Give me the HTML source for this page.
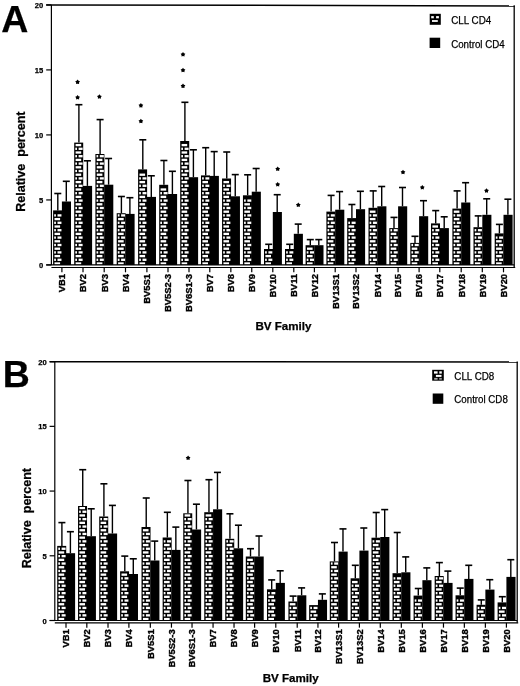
<!DOCTYPE html>
<html><head><meta charset="utf-8"><style>
html,body{margin:0;padding:0;background:#fff;}
body{width:520px;height:686px;overflow:hidden;}
svg{display:block;will-change:transform;}
text{font-family:"Liberation Sans", sans-serif;fill:#000;stroke:#000;stroke-width:0.25px;}
</style></head><body>
<svg width="520" height="686" viewBox="0 0 520 686">
<rect width="520" height="686" fill="#fff"/>
<line x1="57.8" y1="193.4" x2="57.8" y2="210.4" stroke="#000" stroke-width="1.4"/><line x1="54.3" y1="193.5" x2="61.3" y2="193.5" stroke="#000" stroke-width="1.6"/>
<line x1="66.3" y1="181.2" x2="66.3" y2="201.5" stroke="#000" stroke-width="1.4"/><line x1="62.8" y1="181.3" x2="69.8" y2="181.3" stroke="#000" stroke-width="1.6"/>
<rect x="53.1" y="210.4" width="9" height="54.55" fill="#000"/>
<rect x="54.5" y="262.35" width="5.6" height="2.3" fill="#fff"/>
<rect x="54.2" y="258.65" width="1.7" height="2.3" fill="#fff"/>
<rect x="57.5" y="258.65" width="4" height="2.3" fill="#fff"/>
<rect x="54.5" y="254.95" width="5.6" height="2.3" fill="#fff"/>
<rect x="54.2" y="251.25" width="1.7" height="2.3" fill="#fff"/>
<rect x="57.5" y="251.25" width="4" height="2.3" fill="#fff"/>
<rect x="54.5" y="247.55" width="5.6" height="2.3" fill="#fff"/>
<rect x="54.2" y="243.85" width="1.7" height="2.3" fill="#fff"/>
<rect x="57.5" y="243.85" width="4" height="2.3" fill="#fff"/>
<rect x="54.5" y="240.15" width="5.6" height="2.3" fill="#fff"/>
<rect x="54.2" y="236.45" width="1.7" height="2.3" fill="#fff"/>
<rect x="57.5" y="236.45" width="4" height="2.3" fill="#fff"/>
<rect x="54.5" y="232.75" width="5.6" height="2.3" fill="#fff"/>
<rect x="54.2" y="229.05" width="1.7" height="2.3" fill="#fff"/>
<rect x="57.5" y="229.05" width="4" height="2.3" fill="#fff"/>
<rect x="54.5" y="225.35" width="5.6" height="2.3" fill="#fff"/>
<rect x="54.2" y="221.65" width="1.7" height="2.3" fill="#fff"/>
<rect x="57.5" y="221.65" width="4" height="2.3" fill="#fff"/>
<rect x="54.5" y="217.95" width="5.6" height="2.3" fill="#fff"/>
<rect x="54.2" y="214.25" width="1.7" height="2.3" fill="#fff"/>
<rect x="57.5" y="214.25" width="4" height="2.3" fill="#fff"/>
<rect x="61.9" y="201.5" width="9.1" height="63.45" fill="#000"/>
<line x1="78.9" y1="104.6" x2="78.9" y2="142.6" stroke="#000" stroke-width="1.4"/><line x1="75.4" y1="104.7" x2="82.4" y2="104.7" stroke="#000" stroke-width="1.6"/>
<line x1="87.4" y1="160.7" x2="87.4" y2="185.9" stroke="#000" stroke-width="1.4"/><line x1="83.9" y1="160.8" x2="90.9" y2="160.8" stroke="#000" stroke-width="1.6"/>
<rect x="74.2" y="142.6" width="9" height="122.35" fill="#000"/>
<rect x="75.6" y="262.35" width="5.6" height="2.3" fill="#fff"/>
<rect x="75.3" y="258.65" width="1.7" height="2.3" fill="#fff"/>
<rect x="78.6" y="258.65" width="4" height="2.3" fill="#fff"/>
<rect x="75.6" y="254.95" width="5.6" height="2.3" fill="#fff"/>
<rect x="75.3" y="251.25" width="1.7" height="2.3" fill="#fff"/>
<rect x="78.6" y="251.25" width="4" height="2.3" fill="#fff"/>
<rect x="75.6" y="247.55" width="5.6" height="2.3" fill="#fff"/>
<rect x="75.3" y="243.85" width="1.7" height="2.3" fill="#fff"/>
<rect x="78.6" y="243.85" width="4" height="2.3" fill="#fff"/>
<rect x="75.6" y="240.15" width="5.6" height="2.3" fill="#fff"/>
<rect x="75.3" y="236.45" width="1.7" height="2.3" fill="#fff"/>
<rect x="78.6" y="236.45" width="4" height="2.3" fill="#fff"/>
<rect x="75.6" y="232.75" width="5.6" height="2.3" fill="#fff"/>
<rect x="75.3" y="229.05" width="1.7" height="2.3" fill="#fff"/>
<rect x="78.6" y="229.05" width="4" height="2.3" fill="#fff"/>
<rect x="75.6" y="225.35" width="5.6" height="2.3" fill="#fff"/>
<rect x="75.3" y="221.65" width="1.7" height="2.3" fill="#fff"/>
<rect x="78.6" y="221.65" width="4" height="2.3" fill="#fff"/>
<rect x="75.6" y="217.95" width="5.6" height="2.3" fill="#fff"/>
<rect x="75.3" y="214.25" width="1.7" height="2.3" fill="#fff"/>
<rect x="78.6" y="214.25" width="4" height="2.3" fill="#fff"/>
<rect x="75.6" y="210.55" width="5.6" height="2.3" fill="#fff"/>
<rect x="75.3" y="206.85" width="1.7" height="2.3" fill="#fff"/>
<rect x="78.6" y="206.85" width="4" height="2.3" fill="#fff"/>
<rect x="75.6" y="203.15" width="5.6" height="2.3" fill="#fff"/>
<rect x="75.3" y="199.45" width="1.7" height="2.3" fill="#fff"/>
<rect x="78.6" y="199.45" width="4" height="2.3" fill="#fff"/>
<rect x="75.6" y="195.75" width="5.6" height="2.3" fill="#fff"/>
<rect x="75.3" y="192.05" width="1.7" height="2.3" fill="#fff"/>
<rect x="78.6" y="192.05" width="4" height="2.3" fill="#fff"/>
<rect x="75.6" y="188.35" width="5.6" height="2.3" fill="#fff"/>
<rect x="75.3" y="184.65" width="1.7" height="2.3" fill="#fff"/>
<rect x="78.6" y="184.65" width="4" height="2.3" fill="#fff"/>
<rect x="75.6" y="180.95" width="5.6" height="2.3" fill="#fff"/>
<rect x="75.3" y="177.25" width="1.7" height="2.3" fill="#fff"/>
<rect x="78.6" y="177.25" width="4" height="2.3" fill="#fff"/>
<rect x="75.6" y="173.55" width="5.6" height="2.3" fill="#fff"/>
<rect x="75.3" y="169.85" width="1.7" height="2.3" fill="#fff"/>
<rect x="78.6" y="169.85" width="4" height="2.3" fill="#fff"/>
<rect x="75.6" y="166.15" width="5.6" height="2.3" fill="#fff"/>
<rect x="75.3" y="162.45" width="1.7" height="2.3" fill="#fff"/>
<rect x="78.6" y="162.45" width="4" height="2.3" fill="#fff"/>
<rect x="75.6" y="158.75" width="5.6" height="2.3" fill="#fff"/>
<rect x="75.3" y="155.05" width="1.7" height="2.3" fill="#fff"/>
<rect x="78.6" y="155.05" width="4" height="2.3" fill="#fff"/>
<rect x="75.6" y="151.35" width="5.6" height="2.3" fill="#fff"/>
<rect x="75.3" y="147.65" width="1.7" height="2.3" fill="#fff"/>
<rect x="78.6" y="147.65" width="4" height="2.3" fill="#fff"/>
<rect x="75.6" y="143.95" width="5.6" height="2.3" fill="#fff"/>
<rect x="83" y="185.9" width="9.1" height="79.05" fill="#000"/>
<line x1="100.1" y1="119.5" x2="100.1" y2="154" stroke="#000" stroke-width="1.4"/><line x1="96.6" y1="119.6" x2="103.6" y2="119.6" stroke="#000" stroke-width="1.6"/>
<line x1="108.6" y1="158.4" x2="108.6" y2="184.7" stroke="#000" stroke-width="1.4"/><line x1="105.1" y1="158.5" x2="112.1" y2="158.5" stroke="#000" stroke-width="1.6"/>
<rect x="95.4" y="154" width="9" height="110.95" fill="#000"/>
<rect x="96.8" y="262.35" width="5.6" height="2.3" fill="#fff"/>
<rect x="96.5" y="258.65" width="1.7" height="2.3" fill="#fff"/>
<rect x="99.8" y="258.65" width="4" height="2.3" fill="#fff"/>
<rect x="96.8" y="254.95" width="5.6" height="2.3" fill="#fff"/>
<rect x="96.5" y="251.25" width="1.7" height="2.3" fill="#fff"/>
<rect x="99.8" y="251.25" width="4" height="2.3" fill="#fff"/>
<rect x="96.8" y="247.55" width="5.6" height="2.3" fill="#fff"/>
<rect x="96.5" y="243.85" width="1.7" height="2.3" fill="#fff"/>
<rect x="99.8" y="243.85" width="4" height="2.3" fill="#fff"/>
<rect x="96.8" y="240.15" width="5.6" height="2.3" fill="#fff"/>
<rect x="96.5" y="236.45" width="1.7" height="2.3" fill="#fff"/>
<rect x="99.8" y="236.45" width="4" height="2.3" fill="#fff"/>
<rect x="96.8" y="232.75" width="5.6" height="2.3" fill="#fff"/>
<rect x="96.5" y="229.05" width="1.7" height="2.3" fill="#fff"/>
<rect x="99.8" y="229.05" width="4" height="2.3" fill="#fff"/>
<rect x="96.8" y="225.35" width="5.6" height="2.3" fill="#fff"/>
<rect x="96.5" y="221.65" width="1.7" height="2.3" fill="#fff"/>
<rect x="99.8" y="221.65" width="4" height="2.3" fill="#fff"/>
<rect x="96.8" y="217.95" width="5.6" height="2.3" fill="#fff"/>
<rect x="96.5" y="214.25" width="1.7" height="2.3" fill="#fff"/>
<rect x="99.8" y="214.25" width="4" height="2.3" fill="#fff"/>
<rect x="96.8" y="210.55" width="5.6" height="2.3" fill="#fff"/>
<rect x="96.5" y="206.85" width="1.7" height="2.3" fill="#fff"/>
<rect x="99.8" y="206.85" width="4" height="2.3" fill="#fff"/>
<rect x="96.8" y="203.15" width="5.6" height="2.3" fill="#fff"/>
<rect x="96.5" y="199.45" width="1.7" height="2.3" fill="#fff"/>
<rect x="99.8" y="199.45" width="4" height="2.3" fill="#fff"/>
<rect x="96.8" y="195.75" width="5.6" height="2.3" fill="#fff"/>
<rect x="96.5" y="192.05" width="1.7" height="2.3" fill="#fff"/>
<rect x="99.8" y="192.05" width="4" height="2.3" fill="#fff"/>
<rect x="96.8" y="188.35" width="5.6" height="2.3" fill="#fff"/>
<rect x="96.5" y="184.65" width="1.7" height="2.3" fill="#fff"/>
<rect x="99.8" y="184.65" width="4" height="2.3" fill="#fff"/>
<rect x="96.8" y="180.95" width="5.6" height="2.3" fill="#fff"/>
<rect x="96.5" y="177.25" width="1.7" height="2.3" fill="#fff"/>
<rect x="99.8" y="177.25" width="4" height="2.3" fill="#fff"/>
<rect x="96.8" y="173.55" width="5.6" height="2.3" fill="#fff"/>
<rect x="96.5" y="169.85" width="1.7" height="2.3" fill="#fff"/>
<rect x="99.8" y="169.85" width="4" height="2.3" fill="#fff"/>
<rect x="96.8" y="166.15" width="5.6" height="2.3" fill="#fff"/>
<rect x="96.5" y="162.45" width="1.7" height="2.3" fill="#fff"/>
<rect x="99.8" y="162.45" width="4" height="2.3" fill="#fff"/>
<rect x="96.8" y="158.75" width="5.6" height="2.3" fill="#fff"/>
<rect x="96.5" y="155.05" width="1.7" height="2.3" fill="#fff"/>
<rect x="99.8" y="155.05" width="4" height="2.3" fill="#fff"/>
<rect x="104.2" y="184.7" width="9.1" height="80.25" fill="#000"/>
<line x1="121.4" y1="196.4" x2="121.4" y2="213.2" stroke="#000" stroke-width="1.4"/><line x1="117.9" y1="196.5" x2="124.9" y2="196.5" stroke="#000" stroke-width="1.6"/>
<line x1="129.9" y1="197.6" x2="129.9" y2="213.9" stroke="#000" stroke-width="1.4"/><line x1="126.4" y1="197.7" x2="133.4" y2="197.7" stroke="#000" stroke-width="1.6"/>
<rect x="116.7" y="213.2" width="9" height="51.75" fill="#000"/>
<rect x="118.1" y="262.35" width="5.6" height="2.3" fill="#fff"/>
<rect x="117.8" y="258.65" width="1.7" height="2.3" fill="#fff"/>
<rect x="121.1" y="258.65" width="4" height="2.3" fill="#fff"/>
<rect x="118.1" y="254.95" width="5.6" height="2.3" fill="#fff"/>
<rect x="117.8" y="251.25" width="1.7" height="2.3" fill="#fff"/>
<rect x="121.1" y="251.25" width="4" height="2.3" fill="#fff"/>
<rect x="118.1" y="247.55" width="5.6" height="2.3" fill="#fff"/>
<rect x="117.8" y="243.85" width="1.7" height="2.3" fill="#fff"/>
<rect x="121.1" y="243.85" width="4" height="2.3" fill="#fff"/>
<rect x="118.1" y="240.15" width="5.6" height="2.3" fill="#fff"/>
<rect x="117.8" y="236.45" width="1.7" height="2.3" fill="#fff"/>
<rect x="121.1" y="236.45" width="4" height="2.3" fill="#fff"/>
<rect x="118.1" y="232.75" width="5.6" height="2.3" fill="#fff"/>
<rect x="117.8" y="229.05" width="1.7" height="2.3" fill="#fff"/>
<rect x="121.1" y="229.05" width="4" height="2.3" fill="#fff"/>
<rect x="118.1" y="225.35" width="5.6" height="2.3" fill="#fff"/>
<rect x="117.8" y="221.65" width="1.7" height="2.3" fill="#fff"/>
<rect x="121.1" y="221.65" width="4" height="2.3" fill="#fff"/>
<rect x="118.1" y="217.95" width="5.6" height="2.3" fill="#fff"/>
<rect x="117.8" y="214.25" width="1.7" height="2.3" fill="#fff"/>
<rect x="121.1" y="214.25" width="4" height="2.3" fill="#fff"/>
<rect x="125.5" y="213.9" width="9.1" height="51.05" fill="#000"/>
<line x1="142.8" y1="139.7" x2="142.8" y2="169.4" stroke="#000" stroke-width="1.4"/><line x1="139.3" y1="139.8" x2="146.3" y2="139.8" stroke="#000" stroke-width="1.6"/>
<line x1="151.3" y1="175.7" x2="151.3" y2="196.9" stroke="#000" stroke-width="1.4"/><line x1="147.8" y1="175.8" x2="154.8" y2="175.8" stroke="#000" stroke-width="1.6"/>
<rect x="138.1" y="169.4" width="9" height="95.55" fill="#000"/>
<rect x="139.5" y="262.35" width="5.6" height="2.3" fill="#fff"/>
<rect x="139.2" y="258.65" width="1.7" height="2.3" fill="#fff"/>
<rect x="142.5" y="258.65" width="4" height="2.3" fill="#fff"/>
<rect x="139.5" y="254.95" width="5.6" height="2.3" fill="#fff"/>
<rect x="139.2" y="251.25" width="1.7" height="2.3" fill="#fff"/>
<rect x="142.5" y="251.25" width="4" height="2.3" fill="#fff"/>
<rect x="139.5" y="247.55" width="5.6" height="2.3" fill="#fff"/>
<rect x="139.2" y="243.85" width="1.7" height="2.3" fill="#fff"/>
<rect x="142.5" y="243.85" width="4" height="2.3" fill="#fff"/>
<rect x="139.5" y="240.15" width="5.6" height="2.3" fill="#fff"/>
<rect x="139.2" y="236.45" width="1.7" height="2.3" fill="#fff"/>
<rect x="142.5" y="236.45" width="4" height="2.3" fill="#fff"/>
<rect x="139.5" y="232.75" width="5.6" height="2.3" fill="#fff"/>
<rect x="139.2" y="229.05" width="1.7" height="2.3" fill="#fff"/>
<rect x="142.5" y="229.05" width="4" height="2.3" fill="#fff"/>
<rect x="139.5" y="225.35" width="5.6" height="2.3" fill="#fff"/>
<rect x="139.2" y="221.65" width="1.7" height="2.3" fill="#fff"/>
<rect x="142.5" y="221.65" width="4" height="2.3" fill="#fff"/>
<rect x="139.5" y="217.95" width="5.6" height="2.3" fill="#fff"/>
<rect x="139.2" y="214.25" width="1.7" height="2.3" fill="#fff"/>
<rect x="142.5" y="214.25" width="4" height="2.3" fill="#fff"/>
<rect x="139.5" y="210.55" width="5.6" height="2.3" fill="#fff"/>
<rect x="139.2" y="206.85" width="1.7" height="2.3" fill="#fff"/>
<rect x="142.5" y="206.85" width="4" height="2.3" fill="#fff"/>
<rect x="139.5" y="203.15" width="5.6" height="2.3" fill="#fff"/>
<rect x="139.2" y="199.45" width="1.7" height="2.3" fill="#fff"/>
<rect x="142.5" y="199.45" width="4" height="2.3" fill="#fff"/>
<rect x="139.5" y="195.75" width="5.6" height="2.3" fill="#fff"/>
<rect x="139.2" y="192.05" width="1.7" height="2.3" fill="#fff"/>
<rect x="142.5" y="192.05" width="4" height="2.3" fill="#fff"/>
<rect x="139.5" y="188.35" width="5.6" height="2.3" fill="#fff"/>
<rect x="139.2" y="184.65" width="1.7" height="2.3" fill="#fff"/>
<rect x="142.5" y="184.65" width="4" height="2.3" fill="#fff"/>
<rect x="139.5" y="180.95" width="5.6" height="2.3" fill="#fff"/>
<rect x="139.2" y="177.25" width="1.7" height="2.3" fill="#fff"/>
<rect x="142.5" y="177.25" width="4" height="2.3" fill="#fff"/>
<rect x="139.5" y="173.55" width="5.6" height="2.3" fill="#fff"/>
<rect x="146.9" y="196.9" width="9.1" height="68.05" fill="#000"/>
<line x1="163.9" y1="160.4" x2="163.9" y2="184.8" stroke="#000" stroke-width="1.4"/><line x1="160.4" y1="160.5" x2="167.4" y2="160.5" stroke="#000" stroke-width="1.6"/>
<line x1="172.4" y1="171.2" x2="172.4" y2="194" stroke="#000" stroke-width="1.4"/><line x1="168.9" y1="171.3" x2="175.9" y2="171.3" stroke="#000" stroke-width="1.6"/>
<rect x="159.2" y="184.8" width="9" height="80.15" fill="#000"/>
<rect x="160.6" y="262.35" width="5.6" height="2.3" fill="#fff"/>
<rect x="160.3" y="258.65" width="1.7" height="2.3" fill="#fff"/>
<rect x="163.6" y="258.65" width="4" height="2.3" fill="#fff"/>
<rect x="160.6" y="254.95" width="5.6" height="2.3" fill="#fff"/>
<rect x="160.3" y="251.25" width="1.7" height="2.3" fill="#fff"/>
<rect x="163.6" y="251.25" width="4" height="2.3" fill="#fff"/>
<rect x="160.6" y="247.55" width="5.6" height="2.3" fill="#fff"/>
<rect x="160.3" y="243.85" width="1.7" height="2.3" fill="#fff"/>
<rect x="163.6" y="243.85" width="4" height="2.3" fill="#fff"/>
<rect x="160.6" y="240.15" width="5.6" height="2.3" fill="#fff"/>
<rect x="160.3" y="236.45" width="1.7" height="2.3" fill="#fff"/>
<rect x="163.6" y="236.45" width="4" height="2.3" fill="#fff"/>
<rect x="160.6" y="232.75" width="5.6" height="2.3" fill="#fff"/>
<rect x="160.3" y="229.05" width="1.7" height="2.3" fill="#fff"/>
<rect x="163.6" y="229.05" width="4" height="2.3" fill="#fff"/>
<rect x="160.6" y="225.35" width="5.6" height="2.3" fill="#fff"/>
<rect x="160.3" y="221.65" width="1.7" height="2.3" fill="#fff"/>
<rect x="163.6" y="221.65" width="4" height="2.3" fill="#fff"/>
<rect x="160.6" y="217.95" width="5.6" height="2.3" fill="#fff"/>
<rect x="160.3" y="214.25" width="1.7" height="2.3" fill="#fff"/>
<rect x="163.6" y="214.25" width="4" height="2.3" fill="#fff"/>
<rect x="160.6" y="210.55" width="5.6" height="2.3" fill="#fff"/>
<rect x="160.3" y="206.85" width="1.7" height="2.3" fill="#fff"/>
<rect x="163.6" y="206.85" width="4" height="2.3" fill="#fff"/>
<rect x="160.6" y="203.15" width="5.6" height="2.3" fill="#fff"/>
<rect x="160.3" y="199.45" width="1.7" height="2.3" fill="#fff"/>
<rect x="163.6" y="199.45" width="4" height="2.3" fill="#fff"/>
<rect x="160.6" y="195.75" width="5.6" height="2.3" fill="#fff"/>
<rect x="160.3" y="192.05" width="1.7" height="2.3" fill="#fff"/>
<rect x="163.6" y="192.05" width="4" height="2.3" fill="#fff"/>
<rect x="160.6" y="188.35" width="5.6" height="2.3" fill="#fff"/>
<rect x="168" y="194" width="9.1" height="70.95" fill="#000"/>
<line x1="184.9" y1="102.2" x2="184.9" y2="141" stroke="#000" stroke-width="1.4"/><line x1="181.4" y1="102.3" x2="188.4" y2="102.3" stroke="#000" stroke-width="1.6"/>
<line x1="193.4" y1="149.7" x2="193.4" y2="177.2" stroke="#000" stroke-width="1.4"/><line x1="189.9" y1="149.8" x2="196.9" y2="149.8" stroke="#000" stroke-width="1.6"/>
<rect x="180.2" y="141" width="9" height="123.95" fill="#000"/>
<rect x="181.6" y="262.35" width="5.6" height="2.3" fill="#fff"/>
<rect x="181.3" y="258.65" width="1.7" height="2.3" fill="#fff"/>
<rect x="184.6" y="258.65" width="4" height="2.3" fill="#fff"/>
<rect x="181.6" y="254.95" width="5.6" height="2.3" fill="#fff"/>
<rect x="181.3" y="251.25" width="1.7" height="2.3" fill="#fff"/>
<rect x="184.6" y="251.25" width="4" height="2.3" fill="#fff"/>
<rect x="181.6" y="247.55" width="5.6" height="2.3" fill="#fff"/>
<rect x="181.3" y="243.85" width="1.7" height="2.3" fill="#fff"/>
<rect x="184.6" y="243.85" width="4" height="2.3" fill="#fff"/>
<rect x="181.6" y="240.15" width="5.6" height="2.3" fill="#fff"/>
<rect x="181.3" y="236.45" width="1.7" height="2.3" fill="#fff"/>
<rect x="184.6" y="236.45" width="4" height="2.3" fill="#fff"/>
<rect x="181.6" y="232.75" width="5.6" height="2.3" fill="#fff"/>
<rect x="181.3" y="229.05" width="1.7" height="2.3" fill="#fff"/>
<rect x="184.6" y="229.05" width="4" height="2.3" fill="#fff"/>
<rect x="181.6" y="225.35" width="5.6" height="2.3" fill="#fff"/>
<rect x="181.3" y="221.65" width="1.7" height="2.3" fill="#fff"/>
<rect x="184.6" y="221.65" width="4" height="2.3" fill="#fff"/>
<rect x="181.6" y="217.95" width="5.6" height="2.3" fill="#fff"/>
<rect x="181.3" y="214.25" width="1.7" height="2.3" fill="#fff"/>
<rect x="184.6" y="214.25" width="4" height="2.3" fill="#fff"/>
<rect x="181.6" y="210.55" width="5.6" height="2.3" fill="#fff"/>
<rect x="181.3" y="206.85" width="1.7" height="2.3" fill="#fff"/>
<rect x="184.6" y="206.85" width="4" height="2.3" fill="#fff"/>
<rect x="181.6" y="203.15" width="5.6" height="2.3" fill="#fff"/>
<rect x="181.3" y="199.45" width="1.7" height="2.3" fill="#fff"/>
<rect x="184.6" y="199.45" width="4" height="2.3" fill="#fff"/>
<rect x="181.6" y="195.75" width="5.6" height="2.3" fill="#fff"/>
<rect x="181.3" y="192.05" width="1.7" height="2.3" fill="#fff"/>
<rect x="184.6" y="192.05" width="4" height="2.3" fill="#fff"/>
<rect x="181.6" y="188.35" width="5.6" height="2.3" fill="#fff"/>
<rect x="181.3" y="184.65" width="1.7" height="2.3" fill="#fff"/>
<rect x="184.6" y="184.65" width="4" height="2.3" fill="#fff"/>
<rect x="181.6" y="180.95" width="5.6" height="2.3" fill="#fff"/>
<rect x="181.3" y="177.25" width="1.7" height="2.3" fill="#fff"/>
<rect x="184.6" y="177.25" width="4" height="2.3" fill="#fff"/>
<rect x="181.6" y="173.55" width="5.6" height="2.3" fill="#fff"/>
<rect x="181.3" y="169.85" width="1.7" height="2.3" fill="#fff"/>
<rect x="184.6" y="169.85" width="4" height="2.3" fill="#fff"/>
<rect x="181.6" y="166.15" width="5.6" height="2.3" fill="#fff"/>
<rect x="181.3" y="162.45" width="1.7" height="2.3" fill="#fff"/>
<rect x="184.6" y="162.45" width="4" height="2.3" fill="#fff"/>
<rect x="181.6" y="158.75" width="5.6" height="2.3" fill="#fff"/>
<rect x="181.3" y="155.05" width="1.7" height="2.3" fill="#fff"/>
<rect x="184.6" y="155.05" width="4" height="2.3" fill="#fff"/>
<rect x="181.6" y="151.35" width="5.6" height="2.3" fill="#fff"/>
<rect x="181.3" y="147.65" width="1.7" height="2.3" fill="#fff"/>
<rect x="184.6" y="147.65" width="4" height="2.3" fill="#fff"/>
<rect x="181.6" y="143.95" width="5.6" height="2.3" fill="#fff"/>
<rect x="189" y="177.2" width="9.1" height="87.75" fill="#000"/>
<line x1="205.7" y1="147.6" x2="205.7" y2="175.4" stroke="#000" stroke-width="1.4"/><line x1="202.2" y1="147.7" x2="209.2" y2="147.7" stroke="#000" stroke-width="1.6"/>
<line x1="214.2" y1="151.5" x2="214.2" y2="175.9" stroke="#000" stroke-width="1.4"/><line x1="210.7" y1="151.6" x2="217.7" y2="151.6" stroke="#000" stroke-width="1.6"/>
<rect x="201" y="175.4" width="9" height="89.55" fill="#000"/>
<rect x="202.4" y="262.35" width="5.6" height="2.3" fill="#fff"/>
<rect x="202.1" y="258.65" width="1.7" height="2.3" fill="#fff"/>
<rect x="205.4" y="258.65" width="4" height="2.3" fill="#fff"/>
<rect x="202.4" y="254.95" width="5.6" height="2.3" fill="#fff"/>
<rect x="202.1" y="251.25" width="1.7" height="2.3" fill="#fff"/>
<rect x="205.4" y="251.25" width="4" height="2.3" fill="#fff"/>
<rect x="202.4" y="247.55" width="5.6" height="2.3" fill="#fff"/>
<rect x="202.1" y="243.85" width="1.7" height="2.3" fill="#fff"/>
<rect x="205.4" y="243.85" width="4" height="2.3" fill="#fff"/>
<rect x="202.4" y="240.15" width="5.6" height="2.3" fill="#fff"/>
<rect x="202.1" y="236.45" width="1.7" height="2.3" fill="#fff"/>
<rect x="205.4" y="236.45" width="4" height="2.3" fill="#fff"/>
<rect x="202.4" y="232.75" width="5.6" height="2.3" fill="#fff"/>
<rect x="202.1" y="229.05" width="1.7" height="2.3" fill="#fff"/>
<rect x="205.4" y="229.05" width="4" height="2.3" fill="#fff"/>
<rect x="202.4" y="225.35" width="5.6" height="2.3" fill="#fff"/>
<rect x="202.1" y="221.65" width="1.7" height="2.3" fill="#fff"/>
<rect x="205.4" y="221.65" width="4" height="2.3" fill="#fff"/>
<rect x="202.4" y="217.95" width="5.6" height="2.3" fill="#fff"/>
<rect x="202.1" y="214.25" width="1.7" height="2.3" fill="#fff"/>
<rect x="205.4" y="214.25" width="4" height="2.3" fill="#fff"/>
<rect x="202.4" y="210.55" width="5.6" height="2.3" fill="#fff"/>
<rect x="202.1" y="206.85" width="1.7" height="2.3" fill="#fff"/>
<rect x="205.4" y="206.85" width="4" height="2.3" fill="#fff"/>
<rect x="202.4" y="203.15" width="5.6" height="2.3" fill="#fff"/>
<rect x="202.1" y="199.45" width="1.7" height="2.3" fill="#fff"/>
<rect x="205.4" y="199.45" width="4" height="2.3" fill="#fff"/>
<rect x="202.4" y="195.75" width="5.6" height="2.3" fill="#fff"/>
<rect x="202.1" y="192.05" width="1.7" height="2.3" fill="#fff"/>
<rect x="205.4" y="192.05" width="4" height="2.3" fill="#fff"/>
<rect x="202.4" y="188.35" width="5.6" height="2.3" fill="#fff"/>
<rect x="202.1" y="184.65" width="1.7" height="2.3" fill="#fff"/>
<rect x="205.4" y="184.65" width="4" height="2.3" fill="#fff"/>
<rect x="202.4" y="180.95" width="5.6" height="2.3" fill="#fff"/>
<rect x="202.1" y="177.25" width="1.7" height="2.3" fill="#fff"/>
<rect x="205.4" y="177.25" width="4" height="2.3" fill="#fff"/>
<rect x="209.8" y="175.9" width="9.1" height="89.05" fill="#000"/>
<line x1="226.75" y1="151.9" x2="226.75" y2="178.5" stroke="#000" stroke-width="1.4"/><line x1="223.25" y1="152" x2="230.25" y2="152" stroke="#000" stroke-width="1.6"/>
<line x1="235.25" y1="174.5" x2="235.25" y2="196.3" stroke="#000" stroke-width="1.4"/><line x1="231.75" y1="174.6" x2="238.75" y2="174.6" stroke="#000" stroke-width="1.6"/>
<rect x="222.05" y="178.5" width="9" height="86.45" fill="#000"/>
<rect x="223.45" y="262.35" width="5.6" height="2.3" fill="#fff"/>
<rect x="223.15" y="258.65" width="1.7" height="2.3" fill="#fff"/>
<rect x="226.45" y="258.65" width="4" height="2.3" fill="#fff"/>
<rect x="223.45" y="254.95" width="5.6" height="2.3" fill="#fff"/>
<rect x="223.15" y="251.25" width="1.7" height="2.3" fill="#fff"/>
<rect x="226.45" y="251.25" width="4" height="2.3" fill="#fff"/>
<rect x="223.45" y="247.55" width="5.6" height="2.3" fill="#fff"/>
<rect x="223.15" y="243.85" width="1.7" height="2.3" fill="#fff"/>
<rect x="226.45" y="243.85" width="4" height="2.3" fill="#fff"/>
<rect x="223.45" y="240.15" width="5.6" height="2.3" fill="#fff"/>
<rect x="223.15" y="236.45" width="1.7" height="2.3" fill="#fff"/>
<rect x="226.45" y="236.45" width="4" height="2.3" fill="#fff"/>
<rect x="223.45" y="232.75" width="5.6" height="2.3" fill="#fff"/>
<rect x="223.15" y="229.05" width="1.7" height="2.3" fill="#fff"/>
<rect x="226.45" y="229.05" width="4" height="2.3" fill="#fff"/>
<rect x="223.45" y="225.35" width="5.6" height="2.3" fill="#fff"/>
<rect x="223.15" y="221.65" width="1.7" height="2.3" fill="#fff"/>
<rect x="226.45" y="221.65" width="4" height="2.3" fill="#fff"/>
<rect x="223.45" y="217.95" width="5.6" height="2.3" fill="#fff"/>
<rect x="223.15" y="214.25" width="1.7" height="2.3" fill="#fff"/>
<rect x="226.45" y="214.25" width="4" height="2.3" fill="#fff"/>
<rect x="223.45" y="210.55" width="5.6" height="2.3" fill="#fff"/>
<rect x="223.15" y="206.85" width="1.7" height="2.3" fill="#fff"/>
<rect x="226.45" y="206.85" width="4" height="2.3" fill="#fff"/>
<rect x="223.45" y="203.15" width="5.6" height="2.3" fill="#fff"/>
<rect x="223.15" y="199.45" width="1.7" height="2.3" fill="#fff"/>
<rect x="226.45" y="199.45" width="4" height="2.3" fill="#fff"/>
<rect x="223.45" y="195.75" width="5.6" height="2.3" fill="#fff"/>
<rect x="223.15" y="192.05" width="1.7" height="2.3" fill="#fff"/>
<rect x="226.45" y="192.05" width="4" height="2.3" fill="#fff"/>
<rect x="223.45" y="188.35" width="5.6" height="2.3" fill="#fff"/>
<rect x="223.15" y="184.65" width="1.7" height="2.3" fill="#fff"/>
<rect x="226.45" y="184.65" width="4" height="2.3" fill="#fff"/>
<rect x="223.45" y="180.95" width="5.6" height="2.3" fill="#fff"/>
<rect x="230.85" y="196.3" width="9.1" height="68.65" fill="#000"/>
<line x1="247.65" y1="174.7" x2="247.65" y2="195.3" stroke="#000" stroke-width="1.4"/><line x1="244.15" y1="174.8" x2="251.15" y2="174.8" stroke="#000" stroke-width="1.6"/>
<line x1="256.15" y1="168.4" x2="256.15" y2="191.7" stroke="#000" stroke-width="1.4"/><line x1="252.65" y1="168.5" x2="259.65" y2="168.5" stroke="#000" stroke-width="1.6"/>
<rect x="242.95" y="195.3" width="9" height="69.65" fill="#000"/>
<rect x="244.35" y="262.35" width="5.6" height="2.3" fill="#fff"/>
<rect x="244.05" y="258.65" width="1.7" height="2.3" fill="#fff"/>
<rect x="247.35" y="258.65" width="4" height="2.3" fill="#fff"/>
<rect x="244.35" y="254.95" width="5.6" height="2.3" fill="#fff"/>
<rect x="244.05" y="251.25" width="1.7" height="2.3" fill="#fff"/>
<rect x="247.35" y="251.25" width="4" height="2.3" fill="#fff"/>
<rect x="244.35" y="247.55" width="5.6" height="2.3" fill="#fff"/>
<rect x="244.05" y="243.85" width="1.7" height="2.3" fill="#fff"/>
<rect x="247.35" y="243.85" width="4" height="2.3" fill="#fff"/>
<rect x="244.35" y="240.15" width="5.6" height="2.3" fill="#fff"/>
<rect x="244.05" y="236.45" width="1.7" height="2.3" fill="#fff"/>
<rect x="247.35" y="236.45" width="4" height="2.3" fill="#fff"/>
<rect x="244.35" y="232.75" width="5.6" height="2.3" fill="#fff"/>
<rect x="244.05" y="229.05" width="1.7" height="2.3" fill="#fff"/>
<rect x="247.35" y="229.05" width="4" height="2.3" fill="#fff"/>
<rect x="244.35" y="225.35" width="5.6" height="2.3" fill="#fff"/>
<rect x="244.05" y="221.65" width="1.7" height="2.3" fill="#fff"/>
<rect x="247.35" y="221.65" width="4" height="2.3" fill="#fff"/>
<rect x="244.35" y="217.95" width="5.6" height="2.3" fill="#fff"/>
<rect x="244.05" y="214.25" width="1.7" height="2.3" fill="#fff"/>
<rect x="247.35" y="214.25" width="4" height="2.3" fill="#fff"/>
<rect x="244.35" y="210.55" width="5.6" height="2.3" fill="#fff"/>
<rect x="244.05" y="206.85" width="1.7" height="2.3" fill="#fff"/>
<rect x="247.35" y="206.85" width="4" height="2.3" fill="#fff"/>
<rect x="244.35" y="203.15" width="5.6" height="2.3" fill="#fff"/>
<rect x="244.05" y="199.45" width="1.7" height="2.3" fill="#fff"/>
<rect x="247.35" y="199.45" width="4" height="2.3" fill="#fff"/>
<rect x="251.75" y="191.7" width="9.1" height="73.25" fill="#000"/>
<line x1="268.7" y1="244.2" x2="268.7" y2="249" stroke="#000" stroke-width="1.4"/><line x1="265.2" y1="244.3" x2="272.2" y2="244.3" stroke="#000" stroke-width="1.6"/>
<line x1="277.2" y1="194.6" x2="277.2" y2="212" stroke="#000" stroke-width="1.4"/><line x1="273.7" y1="194.7" x2="280.7" y2="194.7" stroke="#000" stroke-width="1.6"/>
<rect x="264" y="249" width="9" height="15.95" fill="#000"/>
<rect x="265.4" y="262.35" width="5.6" height="2.3" fill="#fff"/>
<rect x="265.1" y="258.65" width="1.7" height="2.3" fill="#fff"/>
<rect x="268.4" y="258.65" width="4" height="2.3" fill="#fff"/>
<rect x="265.4" y="254.95" width="5.6" height="2.3" fill="#fff"/>
<rect x="265.1" y="251.25" width="1.7" height="2.3" fill="#fff"/>
<rect x="268.4" y="251.25" width="4" height="2.3" fill="#fff"/>
<rect x="272.8" y="212" width="9.1" height="52.95" fill="#000"/>
<line x1="289.7" y1="244.2" x2="289.7" y2="249" stroke="#000" stroke-width="1.4"/><line x1="286.2" y1="244.3" x2="293.2" y2="244.3" stroke="#000" stroke-width="1.6"/>
<line x1="298.2" y1="224" x2="298.2" y2="233.8" stroke="#000" stroke-width="1.4"/><line x1="294.7" y1="224.1" x2="301.7" y2="224.1" stroke="#000" stroke-width="1.6"/>
<rect x="285" y="249" width="9" height="15.95" fill="#000"/>
<rect x="286.4" y="262.35" width="5.6" height="2.3" fill="#fff"/>
<rect x="286.1" y="258.65" width="1.7" height="2.3" fill="#fff"/>
<rect x="289.4" y="258.65" width="4" height="2.3" fill="#fff"/>
<rect x="286.4" y="254.95" width="5.6" height="2.3" fill="#fff"/>
<rect x="286.1" y="251.25" width="1.7" height="2.3" fill="#fff"/>
<rect x="289.4" y="251.25" width="4" height="2.3" fill="#fff"/>
<rect x="293.8" y="233.8" width="9.1" height="31.15" fill="#000"/>
<line x1="310.3" y1="239.5" x2="310.3" y2="245.2" stroke="#000" stroke-width="1.4"/><line x1="306.8" y1="239.6" x2="313.8" y2="239.6" stroke="#000" stroke-width="1.6"/>
<line x1="318.8" y1="239.5" x2="318.8" y2="245.2" stroke="#000" stroke-width="1.4"/><line x1="315.3" y1="239.6" x2="322.3" y2="239.6" stroke="#000" stroke-width="1.6"/>
<rect x="305.6" y="245.2" width="9" height="19.75" fill="#000"/>
<rect x="307" y="262.35" width="5.6" height="2.3" fill="#fff"/>
<rect x="306.7" y="258.65" width="1.7" height="2.3" fill="#fff"/>
<rect x="310" y="258.65" width="4" height="2.3" fill="#fff"/>
<rect x="307" y="254.95" width="5.6" height="2.3" fill="#fff"/>
<rect x="306.7" y="251.25" width="1.7" height="2.3" fill="#fff"/>
<rect x="310" y="251.25" width="4" height="2.3" fill="#fff"/>
<rect x="307" y="247.55" width="5.6" height="2.3" fill="#fff"/>
<rect x="314.4" y="245.2" width="9.1" height="19.75" fill="#000"/>
<line x1="331.1" y1="195.3" x2="331.1" y2="211.6" stroke="#000" stroke-width="1.4"/><line x1="327.6" y1="195.4" x2="334.6" y2="195.4" stroke="#000" stroke-width="1.6"/>
<line x1="339.6" y1="191.5" x2="339.6" y2="209.7" stroke="#000" stroke-width="1.4"/><line x1="336.1" y1="191.6" x2="343.1" y2="191.6" stroke="#000" stroke-width="1.6"/>
<rect x="326.4" y="211.6" width="9" height="53.35" fill="#000"/>
<rect x="327.8" y="262.35" width="5.6" height="2.3" fill="#fff"/>
<rect x="327.5" y="258.65" width="1.7" height="2.3" fill="#fff"/>
<rect x="330.8" y="258.65" width="4" height="2.3" fill="#fff"/>
<rect x="327.8" y="254.95" width="5.6" height="2.3" fill="#fff"/>
<rect x="327.5" y="251.25" width="1.7" height="2.3" fill="#fff"/>
<rect x="330.8" y="251.25" width="4" height="2.3" fill="#fff"/>
<rect x="327.8" y="247.55" width="5.6" height="2.3" fill="#fff"/>
<rect x="327.5" y="243.85" width="1.7" height="2.3" fill="#fff"/>
<rect x="330.8" y="243.85" width="4" height="2.3" fill="#fff"/>
<rect x="327.8" y="240.15" width="5.6" height="2.3" fill="#fff"/>
<rect x="327.5" y="236.45" width="1.7" height="2.3" fill="#fff"/>
<rect x="330.8" y="236.45" width="4" height="2.3" fill="#fff"/>
<rect x="327.8" y="232.75" width="5.6" height="2.3" fill="#fff"/>
<rect x="327.5" y="229.05" width="1.7" height="2.3" fill="#fff"/>
<rect x="330.8" y="229.05" width="4" height="2.3" fill="#fff"/>
<rect x="327.8" y="225.35" width="5.6" height="2.3" fill="#fff"/>
<rect x="327.5" y="221.65" width="1.7" height="2.3" fill="#fff"/>
<rect x="330.8" y="221.65" width="4" height="2.3" fill="#fff"/>
<rect x="327.8" y="217.95" width="5.6" height="2.3" fill="#fff"/>
<rect x="327.5" y="214.25" width="1.7" height="2.3" fill="#fff"/>
<rect x="330.8" y="214.25" width="4" height="2.3" fill="#fff"/>
<rect x="335.2" y="209.7" width="9.1" height="55.25" fill="#000"/>
<line x1="351.9" y1="204.4" x2="351.9" y2="218.1" stroke="#000" stroke-width="1.4"/><line x1="348.4" y1="204.5" x2="355.4" y2="204.5" stroke="#000" stroke-width="1.6"/>
<line x1="360.4" y1="191.2" x2="360.4" y2="209.2" stroke="#000" stroke-width="1.4"/><line x1="356.9" y1="191.3" x2="363.9" y2="191.3" stroke="#000" stroke-width="1.6"/>
<rect x="347.2" y="218.1" width="9" height="46.85" fill="#000"/>
<rect x="348.6" y="262.35" width="5.6" height="2.3" fill="#fff"/>
<rect x="348.3" y="258.65" width="1.7" height="2.3" fill="#fff"/>
<rect x="351.6" y="258.65" width="4" height="2.3" fill="#fff"/>
<rect x="348.6" y="254.95" width="5.6" height="2.3" fill="#fff"/>
<rect x="348.3" y="251.25" width="1.7" height="2.3" fill="#fff"/>
<rect x="351.6" y="251.25" width="4" height="2.3" fill="#fff"/>
<rect x="348.6" y="247.55" width="5.6" height="2.3" fill="#fff"/>
<rect x="348.3" y="243.85" width="1.7" height="2.3" fill="#fff"/>
<rect x="351.6" y="243.85" width="4" height="2.3" fill="#fff"/>
<rect x="348.6" y="240.15" width="5.6" height="2.3" fill="#fff"/>
<rect x="348.3" y="236.45" width="1.7" height="2.3" fill="#fff"/>
<rect x="351.6" y="236.45" width="4" height="2.3" fill="#fff"/>
<rect x="348.6" y="232.75" width="5.6" height="2.3" fill="#fff"/>
<rect x="348.3" y="229.05" width="1.7" height="2.3" fill="#fff"/>
<rect x="351.6" y="229.05" width="4" height="2.3" fill="#fff"/>
<rect x="348.6" y="225.35" width="5.6" height="2.3" fill="#fff"/>
<rect x="348.3" y="221.65" width="1.7" height="2.3" fill="#fff"/>
<rect x="351.6" y="221.65" width="4" height="2.3" fill="#fff"/>
<rect x="356" y="209.2" width="9.1" height="55.75" fill="#000"/>
<line x1="373.2" y1="190.8" x2="373.2" y2="207.8" stroke="#000" stroke-width="1.4"/><line x1="369.7" y1="190.9" x2="376.7" y2="190.9" stroke="#000" stroke-width="1.6"/>
<line x1="381.7" y1="186.4" x2="381.7" y2="206.3" stroke="#000" stroke-width="1.4"/><line x1="378.2" y1="186.5" x2="385.2" y2="186.5" stroke="#000" stroke-width="1.6"/>
<rect x="368.5" y="207.8" width="9" height="57.15" fill="#000"/>
<rect x="369.9" y="262.35" width="5.6" height="2.3" fill="#fff"/>
<rect x="369.6" y="258.65" width="1.7" height="2.3" fill="#fff"/>
<rect x="372.9" y="258.65" width="4" height="2.3" fill="#fff"/>
<rect x="369.9" y="254.95" width="5.6" height="2.3" fill="#fff"/>
<rect x="369.6" y="251.25" width="1.7" height="2.3" fill="#fff"/>
<rect x="372.9" y="251.25" width="4" height="2.3" fill="#fff"/>
<rect x="369.9" y="247.55" width="5.6" height="2.3" fill="#fff"/>
<rect x="369.6" y="243.85" width="1.7" height="2.3" fill="#fff"/>
<rect x="372.9" y="243.85" width="4" height="2.3" fill="#fff"/>
<rect x="369.9" y="240.15" width="5.6" height="2.3" fill="#fff"/>
<rect x="369.6" y="236.45" width="1.7" height="2.3" fill="#fff"/>
<rect x="372.9" y="236.45" width="4" height="2.3" fill="#fff"/>
<rect x="369.9" y="232.75" width="5.6" height="2.3" fill="#fff"/>
<rect x="369.6" y="229.05" width="1.7" height="2.3" fill="#fff"/>
<rect x="372.9" y="229.05" width="4" height="2.3" fill="#fff"/>
<rect x="369.9" y="225.35" width="5.6" height="2.3" fill="#fff"/>
<rect x="369.6" y="221.65" width="1.7" height="2.3" fill="#fff"/>
<rect x="372.9" y="221.65" width="4" height="2.3" fill="#fff"/>
<rect x="369.9" y="217.95" width="5.6" height="2.3" fill="#fff"/>
<rect x="369.6" y="214.25" width="1.7" height="2.3" fill="#fff"/>
<rect x="372.9" y="214.25" width="4" height="2.3" fill="#fff"/>
<rect x="369.9" y="210.55" width="5.6" height="2.3" fill="#fff"/>
<rect x="377.3" y="206.3" width="9.1" height="58.65" fill="#000"/>
<line x1="394" y1="217.3" x2="394" y2="228.1" stroke="#000" stroke-width="1.4"/><line x1="390.5" y1="217.4" x2="397.5" y2="217.4" stroke="#000" stroke-width="1.6"/>
<line x1="402.5" y1="187.4" x2="402.5" y2="206.3" stroke="#000" stroke-width="1.4"/><line x1="399" y1="187.5" x2="406" y2="187.5" stroke="#000" stroke-width="1.6"/>
<rect x="389.3" y="228.1" width="9" height="36.85" fill="#000"/>
<rect x="390.7" y="262.35" width="5.6" height="2.3" fill="#fff"/>
<rect x="390.4" y="258.65" width="1.7" height="2.3" fill="#fff"/>
<rect x="393.7" y="258.65" width="4" height="2.3" fill="#fff"/>
<rect x="390.7" y="254.95" width="5.6" height="2.3" fill="#fff"/>
<rect x="390.4" y="251.25" width="1.7" height="2.3" fill="#fff"/>
<rect x="393.7" y="251.25" width="4" height="2.3" fill="#fff"/>
<rect x="390.7" y="247.55" width="5.6" height="2.3" fill="#fff"/>
<rect x="390.4" y="243.85" width="1.7" height="2.3" fill="#fff"/>
<rect x="393.7" y="243.85" width="4" height="2.3" fill="#fff"/>
<rect x="390.7" y="240.15" width="5.6" height="2.3" fill="#fff"/>
<rect x="390.4" y="236.45" width="1.7" height="2.3" fill="#fff"/>
<rect x="393.7" y="236.45" width="4" height="2.3" fill="#fff"/>
<rect x="390.7" y="232.75" width="5.6" height="2.3" fill="#fff"/>
<rect x="390.4" y="229.1" width="1.7" height="2.25" fill="#fff"/>
<rect x="393.7" y="229.1" width="4" height="2.25" fill="#fff"/>
<rect x="398.1" y="206.3" width="9.1" height="58.65" fill="#000"/>
<line x1="415" y1="236.2" x2="415" y2="242.9" stroke="#000" stroke-width="1.4"/><line x1="411.5" y1="236.3" x2="418.5" y2="236.3" stroke="#000" stroke-width="1.6"/>
<line x1="423.5" y1="200.6" x2="423.5" y2="216.2" stroke="#000" stroke-width="1.4"/><line x1="420" y1="200.7" x2="427" y2="200.7" stroke="#000" stroke-width="1.6"/>
<rect x="410.3" y="242.9" width="9" height="22.05" fill="#000"/>
<rect x="411.7" y="262.35" width="5.6" height="2.3" fill="#fff"/>
<rect x="411.4" y="258.65" width="1.7" height="2.3" fill="#fff"/>
<rect x="414.7" y="258.65" width="4" height="2.3" fill="#fff"/>
<rect x="411.7" y="254.95" width="5.6" height="2.3" fill="#fff"/>
<rect x="411.4" y="251.25" width="1.7" height="2.3" fill="#fff"/>
<rect x="414.7" y="251.25" width="4" height="2.3" fill="#fff"/>
<rect x="411.7" y="247.55" width="5.6" height="2.3" fill="#fff"/>
<rect x="411.4" y="243.9" width="1.7" height="2.25" fill="#fff"/>
<rect x="414.7" y="243.9" width="4" height="2.25" fill="#fff"/>
<rect x="419.1" y="216.2" width="9.1" height="48.75" fill="#000"/>
<line x1="435.7" y1="210.5" x2="435.7" y2="223.4" stroke="#000" stroke-width="1.4"/><line x1="432.2" y1="210.6" x2="439.2" y2="210.6" stroke="#000" stroke-width="1.6"/>
<line x1="444.2" y1="216.7" x2="444.2" y2="228.1" stroke="#000" stroke-width="1.4"/><line x1="440.7" y1="216.8" x2="447.7" y2="216.8" stroke="#000" stroke-width="1.6"/>
<rect x="431" y="223.4" width="9" height="41.55" fill="#000"/>
<rect x="432.4" y="262.35" width="5.6" height="2.3" fill="#fff"/>
<rect x="432.1" y="258.65" width="1.7" height="2.3" fill="#fff"/>
<rect x="435.4" y="258.65" width="4" height="2.3" fill="#fff"/>
<rect x="432.4" y="254.95" width="5.6" height="2.3" fill="#fff"/>
<rect x="432.1" y="251.25" width="1.7" height="2.3" fill="#fff"/>
<rect x="435.4" y="251.25" width="4" height="2.3" fill="#fff"/>
<rect x="432.4" y="247.55" width="5.6" height="2.3" fill="#fff"/>
<rect x="432.1" y="243.85" width="1.7" height="2.3" fill="#fff"/>
<rect x="435.4" y="243.85" width="4" height="2.3" fill="#fff"/>
<rect x="432.4" y="240.15" width="5.6" height="2.3" fill="#fff"/>
<rect x="432.1" y="236.45" width="1.7" height="2.3" fill="#fff"/>
<rect x="435.4" y="236.45" width="4" height="2.3" fill="#fff"/>
<rect x="432.4" y="232.75" width="5.6" height="2.3" fill="#fff"/>
<rect x="432.1" y="229.05" width="1.7" height="2.3" fill="#fff"/>
<rect x="435.4" y="229.05" width="4" height="2.3" fill="#fff"/>
<rect x="432.4" y="225.35" width="5.6" height="2.3" fill="#fff"/>
<rect x="439.8" y="228.1" width="9.1" height="36.85" fill="#000"/>
<line x1="457.1" y1="190.8" x2="457.1" y2="208.6" stroke="#000" stroke-width="1.4"/><line x1="453.6" y1="190.9" x2="460.6" y2="190.9" stroke="#000" stroke-width="1.6"/>
<line x1="465.6" y1="182.6" x2="465.6" y2="202.5" stroke="#000" stroke-width="1.4"/><line x1="462.1" y1="182.7" x2="469.1" y2="182.7" stroke="#000" stroke-width="1.6"/>
<rect x="452.4" y="208.6" width="9" height="56.35" fill="#000"/>
<rect x="453.8" y="262.35" width="5.6" height="2.3" fill="#fff"/>
<rect x="453.5" y="258.65" width="1.7" height="2.3" fill="#fff"/>
<rect x="456.8" y="258.65" width="4" height="2.3" fill="#fff"/>
<rect x="453.8" y="254.95" width="5.6" height="2.3" fill="#fff"/>
<rect x="453.5" y="251.25" width="1.7" height="2.3" fill="#fff"/>
<rect x="456.8" y="251.25" width="4" height="2.3" fill="#fff"/>
<rect x="453.8" y="247.55" width="5.6" height="2.3" fill="#fff"/>
<rect x="453.5" y="243.85" width="1.7" height="2.3" fill="#fff"/>
<rect x="456.8" y="243.85" width="4" height="2.3" fill="#fff"/>
<rect x="453.8" y="240.15" width="5.6" height="2.3" fill="#fff"/>
<rect x="453.5" y="236.45" width="1.7" height="2.3" fill="#fff"/>
<rect x="456.8" y="236.45" width="4" height="2.3" fill="#fff"/>
<rect x="453.8" y="232.75" width="5.6" height="2.3" fill="#fff"/>
<rect x="453.5" y="229.05" width="1.7" height="2.3" fill="#fff"/>
<rect x="456.8" y="229.05" width="4" height="2.3" fill="#fff"/>
<rect x="453.8" y="225.35" width="5.6" height="2.3" fill="#fff"/>
<rect x="453.5" y="221.65" width="1.7" height="2.3" fill="#fff"/>
<rect x="456.8" y="221.65" width="4" height="2.3" fill="#fff"/>
<rect x="453.8" y="217.95" width="5.6" height="2.3" fill="#fff"/>
<rect x="453.5" y="214.25" width="1.7" height="2.3" fill="#fff"/>
<rect x="456.8" y="214.25" width="4" height="2.3" fill="#fff"/>
<rect x="453.8" y="210.55" width="5.6" height="2.3" fill="#fff"/>
<rect x="461.2" y="202.5" width="9.1" height="62.45" fill="#000"/>
<line x1="478.2" y1="215.8" x2="478.2" y2="227.2" stroke="#000" stroke-width="1.4"/><line x1="474.7" y1="215.9" x2="481.7" y2="215.9" stroke="#000" stroke-width="1.6"/>
<line x1="486.7" y1="198.7" x2="486.7" y2="214.8" stroke="#000" stroke-width="1.4"/><line x1="483.2" y1="198.8" x2="490.2" y2="198.8" stroke="#000" stroke-width="1.6"/>
<rect x="473.5" y="227.2" width="9" height="37.75" fill="#000"/>
<rect x="474.9" y="262.35" width="5.6" height="2.3" fill="#fff"/>
<rect x="474.6" y="258.65" width="1.7" height="2.3" fill="#fff"/>
<rect x="477.9" y="258.65" width="4" height="2.3" fill="#fff"/>
<rect x="474.9" y="254.95" width="5.6" height="2.3" fill="#fff"/>
<rect x="474.6" y="251.25" width="1.7" height="2.3" fill="#fff"/>
<rect x="477.9" y="251.25" width="4" height="2.3" fill="#fff"/>
<rect x="474.9" y="247.55" width="5.6" height="2.3" fill="#fff"/>
<rect x="474.6" y="243.85" width="1.7" height="2.3" fill="#fff"/>
<rect x="477.9" y="243.85" width="4" height="2.3" fill="#fff"/>
<rect x="474.9" y="240.15" width="5.6" height="2.3" fill="#fff"/>
<rect x="474.6" y="236.45" width="1.7" height="2.3" fill="#fff"/>
<rect x="477.9" y="236.45" width="4" height="2.3" fill="#fff"/>
<rect x="474.9" y="232.75" width="5.6" height="2.3" fill="#fff"/>
<rect x="474.6" y="229.05" width="1.7" height="2.3" fill="#fff"/>
<rect x="477.9" y="229.05" width="4" height="2.3" fill="#fff"/>
<rect x="482.3" y="214.8" width="9.1" height="50.15" fill="#000"/>
<line x1="499.4" y1="224.3" x2="499.4" y2="233.4" stroke="#000" stroke-width="1.4"/><line x1="495.9" y1="224.4" x2="502.9" y2="224.4" stroke="#000" stroke-width="1.6"/>
<line x1="507.9" y1="199.1" x2="507.9" y2="214.8" stroke="#000" stroke-width="1.4"/><line x1="504.4" y1="199.2" x2="511.4" y2="199.2" stroke="#000" stroke-width="1.6"/>
<rect x="494.7" y="233.4" width="9" height="31.55" fill="#000"/>
<rect x="496.1" y="262.35" width="5.6" height="2.3" fill="#fff"/>
<rect x="495.8" y="258.65" width="1.7" height="2.3" fill="#fff"/>
<rect x="499.1" y="258.65" width="4" height="2.3" fill="#fff"/>
<rect x="496.1" y="254.95" width="5.6" height="2.3" fill="#fff"/>
<rect x="495.8" y="251.25" width="1.7" height="2.3" fill="#fff"/>
<rect x="499.1" y="251.25" width="4" height="2.3" fill="#fff"/>
<rect x="496.1" y="247.55" width="5.6" height="2.3" fill="#fff"/>
<rect x="495.8" y="243.85" width="1.7" height="2.3" fill="#fff"/>
<rect x="499.1" y="243.85" width="4" height="2.3" fill="#fff"/>
<rect x="496.1" y="240.15" width="5.6" height="2.3" fill="#fff"/>
<rect x="495.8" y="236.45" width="1.7" height="2.3" fill="#fff"/>
<rect x="499.1" y="236.45" width="4" height="2.3" fill="#fff"/>
<rect x="503.5" y="214.8" width="9.1" height="50.15" fill="#000"/>
<polygon points="77.6,79.6 78.51,80.85 79.98,81.33 79.07,82.58 79.07,84.12 77.6,83.65 76.13,84.12 76.13,82.58 75.22,81.33 76.69,80.85" fill="#000"/>
<polygon points="77.6,94.9 78.51,96.15 79.98,96.63 79.07,97.88 79.07,99.42 77.6,98.95 76.13,99.42 76.13,97.88 75.22,96.63 76.69,96.15" fill="#000"/>
<polygon points="99.4,94.2 100.31,95.45 101.78,95.93 100.87,97.18 100.87,98.72 99.4,98.25 97.93,98.72 97.93,97.18 97.02,95.93 98.49,95.45" fill="#000"/>
<polygon points="140.9,103.1 141.81,104.35 143.28,104.83 142.37,106.08 142.37,107.62 140.9,107.15 139.43,107.62 139.43,106.08 138.52,104.83 139.99,104.35" fill="#000"/>
<polygon points="140.9,118.7 141.81,119.95 143.28,120.43 142.37,121.68 142.37,123.22 140.9,122.75 139.43,123.22 139.43,121.68 138.52,120.43 139.99,119.95" fill="#000"/>
<polygon points="183,52 183.91,53.25 185.38,53.73 184.47,54.98 184.47,56.52 183,56.05 181.53,56.52 181.53,54.98 180.62,53.73 182.09,53.25" fill="#000"/>
<polygon points="183,67.8 183.91,69.05 185.38,69.53 184.47,70.78 184.47,72.32 183,71.85 181.53,72.32 181.53,70.78 180.62,69.53 182.09,69.05" fill="#000"/>
<polygon points="183,83.6 183.91,84.85 185.38,85.33 184.47,86.58 184.47,88.12 183,87.65 181.53,88.12 181.53,86.58 180.62,85.33 182.09,84.85" fill="#000"/>
<polygon points="277.7,166.5 278.61,167.75 280.08,168.23 279.17,169.48 279.17,171.02 277.7,170.55 276.23,171.02 276.23,169.48 275.32,168.23 276.79,167.75" fill="#000"/>
<polygon points="277.7,181.9 278.61,183.15 280.08,183.63 279.17,184.88 279.17,186.42 277.7,185.95 276.23,186.42 276.23,184.88 275.32,183.63 276.79,183.15" fill="#000"/>
<polygon points="298.3,202.4 299.21,203.65 300.68,204.13 299.77,205.38 299.77,206.92 298.3,206.45 296.83,206.92 296.83,205.38 295.92,204.13 297.39,203.65" fill="#000"/>
<polygon points="403,169.7 403.91,170.95 405.38,171.43 404.47,172.68 404.47,174.22 403,173.75 401.53,174.22 401.53,172.68 400.62,171.43 402.09,170.95" fill="#000"/>
<polygon points="422.3,184.9 423.21,186.15 424.68,186.63 423.77,187.88 423.77,189.42 422.3,188.95 420.83,189.42 420.83,187.88 419.92,186.63 421.39,186.15" fill="#000"/>
<polygon points="486.5,188.3 487.41,189.55 488.88,190.03 487.97,191.28 487.97,192.82 486.5,192.35 485.03,192.82 485.03,191.28 484.12,190.03 485.59,189.55" fill="#000"/>
<line x1="51.4" y1="4.9" x2="51.4" y2="264.95" stroke="#000" stroke-width="1.2"/>
<line x1="46.2" y1="4.9" x2="514.8" y2="5.9" stroke="#000" stroke-width="1.5"/>
<line x1="514.2" y1="5.3" x2="514.2" y2="267.5" stroke="#000" stroke-width="1.3"/>
<line x1="46.2" y1="264.95" x2="514.2" y2="264.95" stroke="#000" stroke-width="1.2"/>
<line x1="51.4" y1="267.5" x2="515.2" y2="267.5" stroke="#000" stroke-width="1.1"/>
<line x1="46.2" y1="264.95" x2="51.4" y2="264.95" stroke="#000" stroke-width="1.2"/>
<text x="43.3" y="268.05" font-size="7.6" font-weight="bold" text-anchor="end">0</text>
<line x1="46.2" y1="199.94" x2="51.4" y2="199.94" stroke="#000" stroke-width="1.2"/>
<text x="43.3" y="203.04" font-size="7.6" font-weight="bold" text-anchor="end">5</text>
<line x1="46.2" y1="134.92" x2="51.4" y2="134.92" stroke="#000" stroke-width="1.2"/>
<text x="43.3" y="138.02" font-size="7.6" font-weight="bold" text-anchor="end">10</text>
<line x1="46.2" y1="69.91" x2="51.4" y2="69.91" stroke="#000" stroke-width="1.2"/>
<text x="43.3" y="73.01" font-size="7.6" font-weight="bold" text-anchor="end">15</text>
<line x1="46.2" y1="4.9" x2="51.4" y2="4.9" stroke="#000" stroke-width="1.2"/>
<text x="43.3" y="8" font-size="7.6" font-weight="bold" text-anchor="end">20</text>
<line x1="61.9" y1="267.5" x2="61.9" y2="272.3" stroke="#000" stroke-width="1.2"/>
<text transform="translate(65.2,273.9) rotate(-90) scale(1.035,1)" font-size="9.1" font-weight="bold" text-anchor="end" style="stroke-width:0.35px">VB1</text>
<line x1="83" y1="267.5" x2="83" y2="272.3" stroke="#000" stroke-width="1.2"/>
<text transform="translate(86.3,273.9) rotate(-90) scale(1.035,1)" font-size="9.1" font-weight="bold" text-anchor="end" style="stroke-width:0.35px">BV2</text>
<line x1="104.2" y1="267.5" x2="104.2" y2="272.3" stroke="#000" stroke-width="1.2"/>
<text transform="translate(107.5,273.9) rotate(-90) scale(1.035,1)" font-size="9.1" font-weight="bold" text-anchor="end" style="stroke-width:0.35px">BV3</text>
<line x1="125.5" y1="267.5" x2="125.5" y2="272.3" stroke="#000" stroke-width="1.2"/>
<text transform="translate(128.8,273.9) rotate(-90) scale(1.035,1)" font-size="9.1" font-weight="bold" text-anchor="end" style="stroke-width:0.35px">BV4</text>
<line x1="146.9" y1="267.5" x2="146.9" y2="272.3" stroke="#000" stroke-width="1.2"/>
<text transform="translate(150.2,273.9) rotate(-90) scale(1.035,1)" font-size="9.1" font-weight="bold" text-anchor="end" style="stroke-width:0.35px">BV5S1</text>
<line x1="168" y1="267.5" x2="168" y2="272.3" stroke="#000" stroke-width="1.2"/>
<text transform="translate(171.3,273.9) rotate(-90) scale(1.035,1)" font-size="9.1" font-weight="bold" text-anchor="end" style="stroke-width:0.35px">BV5S2-3</text>
<line x1="189" y1="267.5" x2="189" y2="272.3" stroke="#000" stroke-width="1.2"/>
<text transform="translate(192.3,273.9) rotate(-90) scale(1.035,1)" font-size="9.1" font-weight="bold" text-anchor="end" style="stroke-width:0.35px">BV6S1-3</text>
<line x1="209.8" y1="267.5" x2="209.8" y2="272.3" stroke="#000" stroke-width="1.2"/>
<text transform="translate(213.1,273.9) rotate(-90) scale(1.035,1)" font-size="9.1" font-weight="bold" text-anchor="end" style="stroke-width:0.35px">BV7</text>
<line x1="230.85" y1="267.5" x2="230.85" y2="272.3" stroke="#000" stroke-width="1.2"/>
<text transform="translate(234.15,273.9) rotate(-90) scale(1.035,1)" font-size="9.1" font-weight="bold" text-anchor="end" style="stroke-width:0.35px">BV8</text>
<line x1="251.75" y1="267.5" x2="251.75" y2="272.3" stroke="#000" stroke-width="1.2"/>
<text transform="translate(255.05,273.9) rotate(-90) scale(1.035,1)" font-size="9.1" font-weight="bold" text-anchor="end" style="stroke-width:0.35px">BV9</text>
<line x1="272.8" y1="267.5" x2="272.8" y2="272.3" stroke="#000" stroke-width="1.2"/>
<text transform="translate(276.1,273.9) rotate(-90) scale(1.035,1)" font-size="9.1" font-weight="bold" text-anchor="end" style="stroke-width:0.35px">BV10</text>
<line x1="293.8" y1="267.5" x2="293.8" y2="272.3" stroke="#000" stroke-width="1.2"/>
<text transform="translate(297.1,273.9) rotate(-90) scale(1.035,1)" font-size="9.1" font-weight="bold" text-anchor="end" style="stroke-width:0.35px">BV11</text>
<line x1="314.4" y1="267.5" x2="314.4" y2="272.3" stroke="#000" stroke-width="1.2"/>
<text transform="translate(317.7,273.9) rotate(-90) scale(1.035,1)" font-size="9.1" font-weight="bold" text-anchor="end" style="stroke-width:0.35px">BV12</text>
<line x1="335.2" y1="267.5" x2="335.2" y2="272.3" stroke="#000" stroke-width="1.2"/>
<text transform="translate(338.5,273.9) rotate(-90) scale(1.035,1)" font-size="9.1" font-weight="bold" text-anchor="end" style="stroke-width:0.35px">BV13S1</text>
<line x1="356" y1="267.5" x2="356" y2="272.3" stroke="#000" stroke-width="1.2"/>
<text transform="translate(359.3,273.9) rotate(-90) scale(1.035,1)" font-size="9.1" font-weight="bold" text-anchor="end" style="stroke-width:0.35px">BV13S2</text>
<line x1="377.3" y1="267.5" x2="377.3" y2="272.3" stroke="#000" stroke-width="1.2"/>
<text transform="translate(380.6,273.9) rotate(-90) scale(1.035,1)" font-size="9.1" font-weight="bold" text-anchor="end" style="stroke-width:0.35px">BV14</text>
<line x1="398.1" y1="267.5" x2="398.1" y2="272.3" stroke="#000" stroke-width="1.2"/>
<text transform="translate(401.4,273.9) rotate(-90) scale(1.035,1)" font-size="9.1" font-weight="bold" text-anchor="end" style="stroke-width:0.35px">BV15</text>
<line x1="419.1" y1="267.5" x2="419.1" y2="272.3" stroke="#000" stroke-width="1.2"/>
<text transform="translate(422.4,273.9) rotate(-90) scale(1.035,1)" font-size="9.1" font-weight="bold" text-anchor="end" style="stroke-width:0.35px">BV16</text>
<line x1="439.8" y1="267.5" x2="439.8" y2="272.3" stroke="#000" stroke-width="1.2"/>
<text transform="translate(443.1,273.9) rotate(-90) scale(1.035,1)" font-size="9.1" font-weight="bold" text-anchor="end" style="stroke-width:0.35px">BV17</text>
<line x1="461.2" y1="267.5" x2="461.2" y2="272.3" stroke="#000" stroke-width="1.2"/>
<text transform="translate(464.5,273.9) rotate(-90) scale(1.035,1)" font-size="9.1" font-weight="bold" text-anchor="end" style="stroke-width:0.35px">BV18</text>
<line x1="482.3" y1="267.5" x2="482.3" y2="272.3" stroke="#000" stroke-width="1.2"/>
<text transform="translate(485.6,273.9) rotate(-90) scale(1.035,1)" font-size="9.1" font-weight="bold" text-anchor="end" style="stroke-width:0.35px">BV19</text>
<line x1="503.5" y1="267.5" x2="503.5" y2="272.3" stroke="#000" stroke-width="1.2"/>
<text transform="translate(506.8,273.9) rotate(-90) scale(1.035,1)" font-size="9.1" font-weight="bold" text-anchor="end" style="stroke-width:0.35px">BV20</text>
<text x="1.2" y="31.5" font-size="37.5" font-weight="bold">A</text>
<rect x="429.7" y="13.8" width="11.1" height="11" fill="#000"/>
<rect x="431.2" y="16.1" width="2.6" height="2.2" fill="#fff"/>
<rect x="436.1" y="16.1" width="2.8" height="2.2" fill="#fff"/>
<rect x="432" y="20.1" width="5.8" height="1.8" fill="#fff"/>
<rect x="429.6" y="37.7" width="10.6" height="10.3" fill="#000"/>
<text x="451.2" y="24.4" font-size="10.7" textLength="40" lengthAdjust="spacingAndGlyphs">CLL CD4</text>
<text x="451.2" y="47.6" font-size="10.7" textLength="53.5" lengthAdjust="spacingAndGlyphs">Control CD4</text>
<text x="255.4" y="330.3" font-size="11.6" font-weight="bold">BV Family</text>
<text transform="translate(25.3,211.8) rotate(-90)" font-size="12.4" font-weight="bold" textLength="100.3" lengthAdjust="spacingAndGlyphs">Relative  percent</text>
<line x1="61.9" y1="522.5" x2="61.9" y2="545.9" stroke="#000" stroke-width="1.4"/><line x1="58.4" y1="522.6" x2="65.4" y2="522.6" stroke="#000" stroke-width="1.6"/>
<line x1="70.4" y1="531.6" x2="70.4" y2="553.2" stroke="#000" stroke-width="1.4"/><line x1="66.9" y1="531.7" x2="73.9" y2="531.7" stroke="#000" stroke-width="1.6"/>
<rect x="57.2" y="545.9" width="9" height="74.6" fill="#000"/>
<rect x="58.6" y="617.9" width="5.6" height="2.3" fill="#fff"/>
<rect x="58.3" y="614.2" width="1.7" height="2.3" fill="#fff"/>
<rect x="61.6" y="614.2" width="4" height="2.3" fill="#fff"/>
<rect x="58.6" y="610.5" width="5.6" height="2.3" fill="#fff"/>
<rect x="58.3" y="606.8" width="1.7" height="2.3" fill="#fff"/>
<rect x="61.6" y="606.8" width="4" height="2.3" fill="#fff"/>
<rect x="58.6" y="603.1" width="5.6" height="2.3" fill="#fff"/>
<rect x="58.3" y="599.4" width="1.7" height="2.3" fill="#fff"/>
<rect x="61.6" y="599.4" width="4" height="2.3" fill="#fff"/>
<rect x="58.6" y="595.7" width="5.6" height="2.3" fill="#fff"/>
<rect x="58.3" y="592" width="1.7" height="2.3" fill="#fff"/>
<rect x="61.6" y="592" width="4" height="2.3" fill="#fff"/>
<rect x="58.6" y="588.3" width="5.6" height="2.3" fill="#fff"/>
<rect x="58.3" y="584.6" width="1.7" height="2.3" fill="#fff"/>
<rect x="61.6" y="584.6" width="4" height="2.3" fill="#fff"/>
<rect x="58.6" y="580.9" width="5.6" height="2.3" fill="#fff"/>
<rect x="58.3" y="577.2" width="1.7" height="2.3" fill="#fff"/>
<rect x="61.6" y="577.2" width="4" height="2.3" fill="#fff"/>
<rect x="58.6" y="573.5" width="5.6" height="2.3" fill="#fff"/>
<rect x="58.3" y="569.8" width="1.7" height="2.3" fill="#fff"/>
<rect x="61.6" y="569.8" width="4" height="2.3" fill="#fff"/>
<rect x="58.6" y="566.1" width="5.6" height="2.3" fill="#fff"/>
<rect x="58.3" y="562.4" width="1.7" height="2.3" fill="#fff"/>
<rect x="61.6" y="562.4" width="4" height="2.3" fill="#fff"/>
<rect x="58.6" y="558.7" width="5.6" height="2.3" fill="#fff"/>
<rect x="58.3" y="555" width="1.7" height="2.3" fill="#fff"/>
<rect x="61.6" y="555" width="4" height="2.3" fill="#fff"/>
<rect x="58.6" y="551.3" width="5.6" height="2.3" fill="#fff"/>
<rect x="58.3" y="547.6" width="1.7" height="2.3" fill="#fff"/>
<rect x="61.6" y="547.6" width="4" height="2.3" fill="#fff"/>
<rect x="66" y="553.2" width="9.1" height="67.3" fill="#000"/>
<line x1="82.73" y1="469.6" x2="82.73" y2="506" stroke="#000" stroke-width="1.4"/><line x1="79.23" y1="469.7" x2="86.23" y2="469.7" stroke="#000" stroke-width="1.6"/>
<line x1="91.23" y1="508.7" x2="91.23" y2="536.2" stroke="#000" stroke-width="1.4"/><line x1="87.73" y1="508.8" x2="94.73" y2="508.8" stroke="#000" stroke-width="1.6"/>
<rect x="78.03" y="506" width="9" height="114.5" fill="#000"/>
<rect x="79.43" y="617.9" width="5.6" height="2.3" fill="#fff"/>
<rect x="79.13" y="614.2" width="1.7" height="2.3" fill="#fff"/>
<rect x="82.43" y="614.2" width="4" height="2.3" fill="#fff"/>
<rect x="79.43" y="610.5" width="5.6" height="2.3" fill="#fff"/>
<rect x="79.13" y="606.8" width="1.7" height="2.3" fill="#fff"/>
<rect x="82.43" y="606.8" width="4" height="2.3" fill="#fff"/>
<rect x="79.43" y="603.1" width="5.6" height="2.3" fill="#fff"/>
<rect x="79.13" y="599.4" width="1.7" height="2.3" fill="#fff"/>
<rect x="82.43" y="599.4" width="4" height="2.3" fill="#fff"/>
<rect x="79.43" y="595.7" width="5.6" height="2.3" fill="#fff"/>
<rect x="79.13" y="592" width="1.7" height="2.3" fill="#fff"/>
<rect x="82.43" y="592" width="4" height="2.3" fill="#fff"/>
<rect x="79.43" y="588.3" width="5.6" height="2.3" fill="#fff"/>
<rect x="79.13" y="584.6" width="1.7" height="2.3" fill="#fff"/>
<rect x="82.43" y="584.6" width="4" height="2.3" fill="#fff"/>
<rect x="79.43" y="580.9" width="5.6" height="2.3" fill="#fff"/>
<rect x="79.13" y="577.2" width="1.7" height="2.3" fill="#fff"/>
<rect x="82.43" y="577.2" width="4" height="2.3" fill="#fff"/>
<rect x="79.43" y="573.5" width="5.6" height="2.3" fill="#fff"/>
<rect x="79.13" y="569.8" width="1.7" height="2.3" fill="#fff"/>
<rect x="82.43" y="569.8" width="4" height="2.3" fill="#fff"/>
<rect x="79.43" y="566.1" width="5.6" height="2.3" fill="#fff"/>
<rect x="79.13" y="562.4" width="1.7" height="2.3" fill="#fff"/>
<rect x="82.43" y="562.4" width="4" height="2.3" fill="#fff"/>
<rect x="79.43" y="558.7" width="5.6" height="2.3" fill="#fff"/>
<rect x="79.13" y="555" width="1.7" height="2.3" fill="#fff"/>
<rect x="82.43" y="555" width="4" height="2.3" fill="#fff"/>
<rect x="79.43" y="551.3" width="5.6" height="2.3" fill="#fff"/>
<rect x="79.13" y="547.6" width="1.7" height="2.3" fill="#fff"/>
<rect x="82.43" y="547.6" width="4" height="2.3" fill="#fff"/>
<rect x="79.43" y="543.9" width="5.6" height="2.3" fill="#fff"/>
<rect x="79.13" y="540.2" width="1.7" height="2.3" fill="#fff"/>
<rect x="82.43" y="540.2" width="4" height="2.3" fill="#fff"/>
<rect x="79.43" y="536.5" width="5.6" height="2.3" fill="#fff"/>
<rect x="79.13" y="532.8" width="1.7" height="2.3" fill="#fff"/>
<rect x="82.43" y="532.8" width="4" height="2.3" fill="#fff"/>
<rect x="79.43" y="529.1" width="5.6" height="2.3" fill="#fff"/>
<rect x="79.13" y="525.4" width="1.7" height="2.3" fill="#fff"/>
<rect x="82.43" y="525.4" width="4" height="2.3" fill="#fff"/>
<rect x="79.43" y="521.7" width="5.6" height="2.3" fill="#fff"/>
<rect x="79.13" y="518" width="1.7" height="2.3" fill="#fff"/>
<rect x="82.43" y="518" width="4" height="2.3" fill="#fff"/>
<rect x="79.43" y="514.3" width="5.6" height="2.3" fill="#fff"/>
<rect x="79.13" y="510.6" width="1.7" height="2.3" fill="#fff"/>
<rect x="82.43" y="510.6" width="4" height="2.3" fill="#fff"/>
<rect x="79.43" y="507" width="5.6" height="2.2" fill="#fff"/>
<rect x="86.83" y="536.2" width="9.1" height="84.3" fill="#000"/>
<line x1="103.91" y1="483.7" x2="103.91" y2="516.5" stroke="#000" stroke-width="1.4"/><line x1="100.41" y1="483.8" x2="107.41" y2="483.8" stroke="#000" stroke-width="1.6"/>
<line x1="112.41" y1="505.3" x2="112.41" y2="533.5" stroke="#000" stroke-width="1.4"/><line x1="108.91" y1="505.4" x2="115.91" y2="505.4" stroke="#000" stroke-width="1.6"/>
<rect x="99.21" y="516.5" width="9" height="104" fill="#000"/>
<rect x="100.61" y="617.9" width="5.6" height="2.3" fill="#fff"/>
<rect x="100.31" y="614.2" width="1.7" height="2.3" fill="#fff"/>
<rect x="103.61" y="614.2" width="4" height="2.3" fill="#fff"/>
<rect x="100.61" y="610.5" width="5.6" height="2.3" fill="#fff"/>
<rect x="100.31" y="606.8" width="1.7" height="2.3" fill="#fff"/>
<rect x="103.61" y="606.8" width="4" height="2.3" fill="#fff"/>
<rect x="100.61" y="603.1" width="5.6" height="2.3" fill="#fff"/>
<rect x="100.31" y="599.4" width="1.7" height="2.3" fill="#fff"/>
<rect x="103.61" y="599.4" width="4" height="2.3" fill="#fff"/>
<rect x="100.61" y="595.7" width="5.6" height="2.3" fill="#fff"/>
<rect x="100.31" y="592" width="1.7" height="2.3" fill="#fff"/>
<rect x="103.61" y="592" width="4" height="2.3" fill="#fff"/>
<rect x="100.61" y="588.3" width="5.6" height="2.3" fill="#fff"/>
<rect x="100.31" y="584.6" width="1.7" height="2.3" fill="#fff"/>
<rect x="103.61" y="584.6" width="4" height="2.3" fill="#fff"/>
<rect x="100.61" y="580.9" width="5.6" height="2.3" fill="#fff"/>
<rect x="100.31" y="577.2" width="1.7" height="2.3" fill="#fff"/>
<rect x="103.61" y="577.2" width="4" height="2.3" fill="#fff"/>
<rect x="100.61" y="573.5" width="5.6" height="2.3" fill="#fff"/>
<rect x="100.31" y="569.8" width="1.7" height="2.3" fill="#fff"/>
<rect x="103.61" y="569.8" width="4" height="2.3" fill="#fff"/>
<rect x="100.61" y="566.1" width="5.6" height="2.3" fill="#fff"/>
<rect x="100.31" y="562.4" width="1.7" height="2.3" fill="#fff"/>
<rect x="103.61" y="562.4" width="4" height="2.3" fill="#fff"/>
<rect x="100.61" y="558.7" width="5.6" height="2.3" fill="#fff"/>
<rect x="100.31" y="555" width="1.7" height="2.3" fill="#fff"/>
<rect x="103.61" y="555" width="4" height="2.3" fill="#fff"/>
<rect x="100.61" y="551.3" width="5.6" height="2.3" fill="#fff"/>
<rect x="100.31" y="547.6" width="1.7" height="2.3" fill="#fff"/>
<rect x="103.61" y="547.6" width="4" height="2.3" fill="#fff"/>
<rect x="100.61" y="543.9" width="5.6" height="2.3" fill="#fff"/>
<rect x="100.31" y="540.2" width="1.7" height="2.3" fill="#fff"/>
<rect x="103.61" y="540.2" width="4" height="2.3" fill="#fff"/>
<rect x="100.61" y="536.5" width="5.6" height="2.3" fill="#fff"/>
<rect x="100.31" y="532.8" width="1.7" height="2.3" fill="#fff"/>
<rect x="103.61" y="532.8" width="4" height="2.3" fill="#fff"/>
<rect x="100.61" y="529.1" width="5.6" height="2.3" fill="#fff"/>
<rect x="100.31" y="525.4" width="1.7" height="2.3" fill="#fff"/>
<rect x="103.61" y="525.4" width="4" height="2.3" fill="#fff"/>
<rect x="100.61" y="521.7" width="5.6" height="2.3" fill="#fff"/>
<rect x="100.31" y="518" width="1.7" height="2.3" fill="#fff"/>
<rect x="103.61" y="518" width="4" height="2.3" fill="#fff"/>
<rect x="108.01" y="533.5" width="9.1" height="87" fill="#000"/>
<line x1="124.79" y1="556" x2="124.79" y2="571.3" stroke="#000" stroke-width="1.4"/><line x1="121.29" y1="556.1" x2="128.29" y2="556.1" stroke="#000" stroke-width="1.6"/>
<line x1="133.29" y1="558.7" x2="133.29" y2="574" stroke="#000" stroke-width="1.4"/><line x1="129.79" y1="558.8" x2="136.79" y2="558.8" stroke="#000" stroke-width="1.6"/>
<rect x="120.09" y="571.3" width="9" height="49.2" fill="#000"/>
<rect x="121.49" y="617.9" width="5.6" height="2.3" fill="#fff"/>
<rect x="121.19" y="614.2" width="1.7" height="2.3" fill="#fff"/>
<rect x="124.49" y="614.2" width="4" height="2.3" fill="#fff"/>
<rect x="121.49" y="610.5" width="5.6" height="2.3" fill="#fff"/>
<rect x="121.19" y="606.8" width="1.7" height="2.3" fill="#fff"/>
<rect x="124.49" y="606.8" width="4" height="2.3" fill="#fff"/>
<rect x="121.49" y="603.1" width="5.6" height="2.3" fill="#fff"/>
<rect x="121.19" y="599.4" width="1.7" height="2.3" fill="#fff"/>
<rect x="124.49" y="599.4" width="4" height="2.3" fill="#fff"/>
<rect x="121.49" y="595.7" width="5.6" height="2.3" fill="#fff"/>
<rect x="121.19" y="592" width="1.7" height="2.3" fill="#fff"/>
<rect x="124.49" y="592" width="4" height="2.3" fill="#fff"/>
<rect x="121.49" y="588.3" width="5.6" height="2.3" fill="#fff"/>
<rect x="121.19" y="584.6" width="1.7" height="2.3" fill="#fff"/>
<rect x="124.49" y="584.6" width="4" height="2.3" fill="#fff"/>
<rect x="121.49" y="580.9" width="5.6" height="2.3" fill="#fff"/>
<rect x="121.19" y="577.2" width="1.7" height="2.3" fill="#fff"/>
<rect x="124.49" y="577.2" width="4" height="2.3" fill="#fff"/>
<rect x="121.49" y="573.5" width="5.6" height="2.3" fill="#fff"/>
<rect x="128.89" y="574" width="9.1" height="46.5" fill="#000"/>
<line x1="146.22" y1="497.9" x2="146.22" y2="527" stroke="#000" stroke-width="1.4"/><line x1="142.72" y1="498" x2="149.72" y2="498" stroke="#000" stroke-width="1.6"/>
<line x1="154.72" y1="541" x2="154.72" y2="560.5" stroke="#000" stroke-width="1.4"/><line x1="151.22" y1="541.1" x2="158.22" y2="541.1" stroke="#000" stroke-width="1.6"/>
<rect x="141.52" y="527" width="9" height="93.5" fill="#000"/>
<rect x="142.92" y="617.9" width="5.6" height="2.3" fill="#fff"/>
<rect x="142.62" y="614.2" width="1.7" height="2.3" fill="#fff"/>
<rect x="145.92" y="614.2" width="4" height="2.3" fill="#fff"/>
<rect x="142.92" y="610.5" width="5.6" height="2.3" fill="#fff"/>
<rect x="142.62" y="606.8" width="1.7" height="2.3" fill="#fff"/>
<rect x="145.92" y="606.8" width="4" height="2.3" fill="#fff"/>
<rect x="142.92" y="603.1" width="5.6" height="2.3" fill="#fff"/>
<rect x="142.62" y="599.4" width="1.7" height="2.3" fill="#fff"/>
<rect x="145.92" y="599.4" width="4" height="2.3" fill="#fff"/>
<rect x="142.92" y="595.7" width="5.6" height="2.3" fill="#fff"/>
<rect x="142.62" y="592" width="1.7" height="2.3" fill="#fff"/>
<rect x="145.92" y="592" width="4" height="2.3" fill="#fff"/>
<rect x="142.92" y="588.3" width="5.6" height="2.3" fill="#fff"/>
<rect x="142.62" y="584.6" width="1.7" height="2.3" fill="#fff"/>
<rect x="145.92" y="584.6" width="4" height="2.3" fill="#fff"/>
<rect x="142.92" y="580.9" width="5.6" height="2.3" fill="#fff"/>
<rect x="142.62" y="577.2" width="1.7" height="2.3" fill="#fff"/>
<rect x="145.92" y="577.2" width="4" height="2.3" fill="#fff"/>
<rect x="142.92" y="573.5" width="5.6" height="2.3" fill="#fff"/>
<rect x="142.62" y="569.8" width="1.7" height="2.3" fill="#fff"/>
<rect x="145.92" y="569.8" width="4" height="2.3" fill="#fff"/>
<rect x="142.92" y="566.1" width="5.6" height="2.3" fill="#fff"/>
<rect x="142.62" y="562.4" width="1.7" height="2.3" fill="#fff"/>
<rect x="145.92" y="562.4" width="4" height="2.3" fill="#fff"/>
<rect x="142.92" y="558.7" width="5.6" height="2.3" fill="#fff"/>
<rect x="142.62" y="555" width="1.7" height="2.3" fill="#fff"/>
<rect x="145.92" y="555" width="4" height="2.3" fill="#fff"/>
<rect x="142.92" y="551.3" width="5.6" height="2.3" fill="#fff"/>
<rect x="142.62" y="547.6" width="1.7" height="2.3" fill="#fff"/>
<rect x="145.92" y="547.6" width="4" height="2.3" fill="#fff"/>
<rect x="142.92" y="543.9" width="5.6" height="2.3" fill="#fff"/>
<rect x="142.62" y="540.2" width="1.7" height="2.3" fill="#fff"/>
<rect x="145.92" y="540.2" width="4" height="2.3" fill="#fff"/>
<rect x="142.92" y="536.5" width="5.6" height="2.3" fill="#fff"/>
<rect x="142.62" y="532.8" width="1.7" height="2.3" fill="#fff"/>
<rect x="145.92" y="532.8" width="4" height="2.3" fill="#fff"/>
<rect x="142.92" y="529.1" width="5.6" height="2.3" fill="#fff"/>
<rect x="150.32" y="560.5" width="9.1" height="60" fill="#000"/>
<line x1="167.35" y1="512.2" x2="167.35" y2="537.5" stroke="#000" stroke-width="1.4"/><line x1="163.85" y1="512.3" x2="170.85" y2="512.3" stroke="#000" stroke-width="1.6"/>
<line x1="175.85" y1="527" x2="175.85" y2="549.9" stroke="#000" stroke-width="1.4"/><line x1="172.35" y1="527.1" x2="179.35" y2="527.1" stroke="#000" stroke-width="1.6"/>
<rect x="162.65" y="537.5" width="9" height="83" fill="#000"/>
<rect x="164.05" y="617.9" width="5.6" height="2.3" fill="#fff"/>
<rect x="163.75" y="614.2" width="1.7" height="2.3" fill="#fff"/>
<rect x="167.05" y="614.2" width="4" height="2.3" fill="#fff"/>
<rect x="164.05" y="610.5" width="5.6" height="2.3" fill="#fff"/>
<rect x="163.75" y="606.8" width="1.7" height="2.3" fill="#fff"/>
<rect x="167.05" y="606.8" width="4" height="2.3" fill="#fff"/>
<rect x="164.05" y="603.1" width="5.6" height="2.3" fill="#fff"/>
<rect x="163.75" y="599.4" width="1.7" height="2.3" fill="#fff"/>
<rect x="167.05" y="599.4" width="4" height="2.3" fill="#fff"/>
<rect x="164.05" y="595.7" width="5.6" height="2.3" fill="#fff"/>
<rect x="163.75" y="592" width="1.7" height="2.3" fill="#fff"/>
<rect x="167.05" y="592" width="4" height="2.3" fill="#fff"/>
<rect x="164.05" y="588.3" width="5.6" height="2.3" fill="#fff"/>
<rect x="163.75" y="584.6" width="1.7" height="2.3" fill="#fff"/>
<rect x="167.05" y="584.6" width="4" height="2.3" fill="#fff"/>
<rect x="164.05" y="580.9" width="5.6" height="2.3" fill="#fff"/>
<rect x="163.75" y="577.2" width="1.7" height="2.3" fill="#fff"/>
<rect x="167.05" y="577.2" width="4" height="2.3" fill="#fff"/>
<rect x="164.05" y="573.5" width="5.6" height="2.3" fill="#fff"/>
<rect x="163.75" y="569.8" width="1.7" height="2.3" fill="#fff"/>
<rect x="167.05" y="569.8" width="4" height="2.3" fill="#fff"/>
<rect x="164.05" y="566.1" width="5.6" height="2.3" fill="#fff"/>
<rect x="163.75" y="562.4" width="1.7" height="2.3" fill="#fff"/>
<rect x="167.05" y="562.4" width="4" height="2.3" fill="#fff"/>
<rect x="164.05" y="558.7" width="5.6" height="2.3" fill="#fff"/>
<rect x="163.75" y="555" width="1.7" height="2.3" fill="#fff"/>
<rect x="167.05" y="555" width="4" height="2.3" fill="#fff"/>
<rect x="164.05" y="551.3" width="5.6" height="2.3" fill="#fff"/>
<rect x="163.75" y="547.6" width="1.7" height="2.3" fill="#fff"/>
<rect x="167.05" y="547.6" width="4" height="2.3" fill="#fff"/>
<rect x="164.05" y="543.9" width="5.6" height="2.3" fill="#fff"/>
<rect x="163.75" y="540.2" width="1.7" height="2.3" fill="#fff"/>
<rect x="167.05" y="540.2" width="4" height="2.3" fill="#fff"/>
<rect x="171.45" y="549.9" width="9.1" height="70.6" fill="#000"/>
<line x1="187.93" y1="480.4" x2="187.93" y2="513.3" stroke="#000" stroke-width="1.4"/><line x1="184.43" y1="480.5" x2="191.43" y2="480.5" stroke="#000" stroke-width="1.6"/>
<line x1="196.43" y1="504.1" x2="196.43" y2="529.5" stroke="#000" stroke-width="1.4"/><line x1="192.93" y1="504.2" x2="199.93" y2="504.2" stroke="#000" stroke-width="1.6"/>
<rect x="183.23" y="513.3" width="9" height="107.2" fill="#000"/>
<rect x="184.63" y="617.9" width="5.6" height="2.3" fill="#fff"/>
<rect x="184.33" y="614.2" width="1.7" height="2.3" fill="#fff"/>
<rect x="187.63" y="614.2" width="4" height="2.3" fill="#fff"/>
<rect x="184.63" y="610.5" width="5.6" height="2.3" fill="#fff"/>
<rect x="184.33" y="606.8" width="1.7" height="2.3" fill="#fff"/>
<rect x="187.63" y="606.8" width="4" height="2.3" fill="#fff"/>
<rect x="184.63" y="603.1" width="5.6" height="2.3" fill="#fff"/>
<rect x="184.33" y="599.4" width="1.7" height="2.3" fill="#fff"/>
<rect x="187.63" y="599.4" width="4" height="2.3" fill="#fff"/>
<rect x="184.63" y="595.7" width="5.6" height="2.3" fill="#fff"/>
<rect x="184.33" y="592" width="1.7" height="2.3" fill="#fff"/>
<rect x="187.63" y="592" width="4" height="2.3" fill="#fff"/>
<rect x="184.63" y="588.3" width="5.6" height="2.3" fill="#fff"/>
<rect x="184.33" y="584.6" width="1.7" height="2.3" fill="#fff"/>
<rect x="187.63" y="584.6" width="4" height="2.3" fill="#fff"/>
<rect x="184.63" y="580.9" width="5.6" height="2.3" fill="#fff"/>
<rect x="184.33" y="577.2" width="1.7" height="2.3" fill="#fff"/>
<rect x="187.63" y="577.2" width="4" height="2.3" fill="#fff"/>
<rect x="184.63" y="573.5" width="5.6" height="2.3" fill="#fff"/>
<rect x="184.33" y="569.8" width="1.7" height="2.3" fill="#fff"/>
<rect x="187.63" y="569.8" width="4" height="2.3" fill="#fff"/>
<rect x="184.63" y="566.1" width="5.6" height="2.3" fill="#fff"/>
<rect x="184.33" y="562.4" width="1.7" height="2.3" fill="#fff"/>
<rect x="187.63" y="562.4" width="4" height="2.3" fill="#fff"/>
<rect x="184.63" y="558.7" width="5.6" height="2.3" fill="#fff"/>
<rect x="184.33" y="555" width="1.7" height="2.3" fill="#fff"/>
<rect x="187.63" y="555" width="4" height="2.3" fill="#fff"/>
<rect x="184.63" y="551.3" width="5.6" height="2.3" fill="#fff"/>
<rect x="184.33" y="547.6" width="1.7" height="2.3" fill="#fff"/>
<rect x="187.63" y="547.6" width="4" height="2.3" fill="#fff"/>
<rect x="184.63" y="543.9" width="5.6" height="2.3" fill="#fff"/>
<rect x="184.33" y="540.2" width="1.7" height="2.3" fill="#fff"/>
<rect x="187.63" y="540.2" width="4" height="2.3" fill="#fff"/>
<rect x="184.63" y="536.5" width="5.6" height="2.3" fill="#fff"/>
<rect x="184.33" y="532.8" width="1.7" height="2.3" fill="#fff"/>
<rect x="187.63" y="532.8" width="4" height="2.3" fill="#fff"/>
<rect x="184.63" y="529.1" width="5.6" height="2.3" fill="#fff"/>
<rect x="184.33" y="525.4" width="1.7" height="2.3" fill="#fff"/>
<rect x="187.63" y="525.4" width="4" height="2.3" fill="#fff"/>
<rect x="184.63" y="521.7" width="5.6" height="2.3" fill="#fff"/>
<rect x="184.33" y="518" width="1.7" height="2.3" fill="#fff"/>
<rect x="187.63" y="518" width="4" height="2.3" fill="#fff"/>
<rect x="184.63" y="514.3" width="5.6" height="2.3" fill="#fff"/>
<rect x="192.03" y="529.5" width="9.1" height="91" fill="#000"/>
<line x1="208.96" y1="479.6" x2="208.96" y2="512.2" stroke="#000" stroke-width="1.4"/><line x1="205.46" y1="479.7" x2="212.46" y2="479.7" stroke="#000" stroke-width="1.6"/>
<line x1="217.46" y1="472.3" x2="217.46" y2="509.3" stroke="#000" stroke-width="1.4"/><line x1="213.96" y1="472.4" x2="220.96" y2="472.4" stroke="#000" stroke-width="1.6"/>
<rect x="204.26" y="512.2" width="9" height="108.3" fill="#000"/>
<rect x="205.66" y="617.9" width="5.6" height="2.3" fill="#fff"/>
<rect x="205.36" y="614.2" width="1.7" height="2.3" fill="#fff"/>
<rect x="208.66" y="614.2" width="4" height="2.3" fill="#fff"/>
<rect x="205.66" y="610.5" width="5.6" height="2.3" fill="#fff"/>
<rect x="205.36" y="606.8" width="1.7" height="2.3" fill="#fff"/>
<rect x="208.66" y="606.8" width="4" height="2.3" fill="#fff"/>
<rect x="205.66" y="603.1" width="5.6" height="2.3" fill="#fff"/>
<rect x="205.36" y="599.4" width="1.7" height="2.3" fill="#fff"/>
<rect x="208.66" y="599.4" width="4" height="2.3" fill="#fff"/>
<rect x="205.66" y="595.7" width="5.6" height="2.3" fill="#fff"/>
<rect x="205.36" y="592" width="1.7" height="2.3" fill="#fff"/>
<rect x="208.66" y="592" width="4" height="2.3" fill="#fff"/>
<rect x="205.66" y="588.3" width="5.6" height="2.3" fill="#fff"/>
<rect x="205.36" y="584.6" width="1.7" height="2.3" fill="#fff"/>
<rect x="208.66" y="584.6" width="4" height="2.3" fill="#fff"/>
<rect x="205.66" y="580.9" width="5.6" height="2.3" fill="#fff"/>
<rect x="205.36" y="577.2" width="1.7" height="2.3" fill="#fff"/>
<rect x="208.66" y="577.2" width="4" height="2.3" fill="#fff"/>
<rect x="205.66" y="573.5" width="5.6" height="2.3" fill="#fff"/>
<rect x="205.36" y="569.8" width="1.7" height="2.3" fill="#fff"/>
<rect x="208.66" y="569.8" width="4" height="2.3" fill="#fff"/>
<rect x="205.66" y="566.1" width="5.6" height="2.3" fill="#fff"/>
<rect x="205.36" y="562.4" width="1.7" height="2.3" fill="#fff"/>
<rect x="208.66" y="562.4" width="4" height="2.3" fill="#fff"/>
<rect x="205.66" y="558.7" width="5.6" height="2.3" fill="#fff"/>
<rect x="205.36" y="555" width="1.7" height="2.3" fill="#fff"/>
<rect x="208.66" y="555" width="4" height="2.3" fill="#fff"/>
<rect x="205.66" y="551.3" width="5.6" height="2.3" fill="#fff"/>
<rect x="205.36" y="547.6" width="1.7" height="2.3" fill="#fff"/>
<rect x="208.66" y="547.6" width="4" height="2.3" fill="#fff"/>
<rect x="205.66" y="543.9" width="5.6" height="2.3" fill="#fff"/>
<rect x="205.36" y="540.2" width="1.7" height="2.3" fill="#fff"/>
<rect x="208.66" y="540.2" width="4" height="2.3" fill="#fff"/>
<rect x="205.66" y="536.5" width="5.6" height="2.3" fill="#fff"/>
<rect x="205.36" y="532.8" width="1.7" height="2.3" fill="#fff"/>
<rect x="208.66" y="532.8" width="4" height="2.3" fill="#fff"/>
<rect x="205.66" y="529.1" width="5.6" height="2.3" fill="#fff"/>
<rect x="205.36" y="525.4" width="1.7" height="2.3" fill="#fff"/>
<rect x="208.66" y="525.4" width="4" height="2.3" fill="#fff"/>
<rect x="205.66" y="521.7" width="5.6" height="2.3" fill="#fff"/>
<rect x="205.36" y="518" width="1.7" height="2.3" fill="#fff"/>
<rect x="208.66" y="518" width="4" height="2.3" fill="#fff"/>
<rect x="205.66" y="514.3" width="5.6" height="2.3" fill="#fff"/>
<rect x="213.06" y="509.3" width="9.1" height="111.2" fill="#000"/>
<line x1="229.93" y1="513.7" x2="229.93" y2="538.8" stroke="#000" stroke-width="1.4"/><line x1="226.43" y1="513.8" x2="233.43" y2="513.8" stroke="#000" stroke-width="1.6"/>
<line x1="238.43" y1="525.1" x2="238.43" y2="548.3" stroke="#000" stroke-width="1.4"/><line x1="234.93" y1="525.2" x2="241.93" y2="525.2" stroke="#000" stroke-width="1.6"/>
<rect x="225.23" y="538.8" width="9" height="81.7" fill="#000"/>
<rect x="226.63" y="617.9" width="5.6" height="2.3" fill="#fff"/>
<rect x="226.33" y="614.2" width="1.7" height="2.3" fill="#fff"/>
<rect x="229.63" y="614.2" width="4" height="2.3" fill="#fff"/>
<rect x="226.63" y="610.5" width="5.6" height="2.3" fill="#fff"/>
<rect x="226.33" y="606.8" width="1.7" height="2.3" fill="#fff"/>
<rect x="229.63" y="606.8" width="4" height="2.3" fill="#fff"/>
<rect x="226.63" y="603.1" width="5.6" height="2.3" fill="#fff"/>
<rect x="226.33" y="599.4" width="1.7" height="2.3" fill="#fff"/>
<rect x="229.63" y="599.4" width="4" height="2.3" fill="#fff"/>
<rect x="226.63" y="595.7" width="5.6" height="2.3" fill="#fff"/>
<rect x="226.33" y="592" width="1.7" height="2.3" fill="#fff"/>
<rect x="229.63" y="592" width="4" height="2.3" fill="#fff"/>
<rect x="226.63" y="588.3" width="5.6" height="2.3" fill="#fff"/>
<rect x="226.33" y="584.6" width="1.7" height="2.3" fill="#fff"/>
<rect x="229.63" y="584.6" width="4" height="2.3" fill="#fff"/>
<rect x="226.63" y="580.9" width="5.6" height="2.3" fill="#fff"/>
<rect x="226.33" y="577.2" width="1.7" height="2.3" fill="#fff"/>
<rect x="229.63" y="577.2" width="4" height="2.3" fill="#fff"/>
<rect x="226.63" y="573.5" width="5.6" height="2.3" fill="#fff"/>
<rect x="226.33" y="569.8" width="1.7" height="2.3" fill="#fff"/>
<rect x="229.63" y="569.8" width="4" height="2.3" fill="#fff"/>
<rect x="226.63" y="566.1" width="5.6" height="2.3" fill="#fff"/>
<rect x="226.33" y="562.4" width="1.7" height="2.3" fill="#fff"/>
<rect x="229.63" y="562.4" width="4" height="2.3" fill="#fff"/>
<rect x="226.63" y="558.7" width="5.6" height="2.3" fill="#fff"/>
<rect x="226.33" y="555" width="1.7" height="2.3" fill="#fff"/>
<rect x="229.63" y="555" width="4" height="2.3" fill="#fff"/>
<rect x="226.63" y="551.3" width="5.6" height="2.3" fill="#fff"/>
<rect x="226.33" y="547.6" width="1.7" height="2.3" fill="#fff"/>
<rect x="229.63" y="547.6" width="4" height="2.3" fill="#fff"/>
<rect x="226.63" y="543.9" width="5.6" height="2.3" fill="#fff"/>
<rect x="226.33" y="540.2" width="1.7" height="2.3" fill="#fff"/>
<rect x="229.63" y="540.2" width="4" height="2.3" fill="#fff"/>
<rect x="234.03" y="548.3" width="9.1" height="72.2" fill="#000"/>
<line x1="250.51" y1="548.6" x2="250.51" y2="556.5" stroke="#000" stroke-width="1.4"/><line x1="247.01" y1="548.7" x2="254.01" y2="548.7" stroke="#000" stroke-width="1.6"/>
<line x1="259.01" y1="535.9" x2="259.01" y2="556.5" stroke="#000" stroke-width="1.4"/><line x1="255.51" y1="536" x2="262.51" y2="536" stroke="#000" stroke-width="1.6"/>
<rect x="245.81" y="556.5" width="9" height="64" fill="#000"/>
<rect x="247.21" y="617.9" width="5.6" height="2.3" fill="#fff"/>
<rect x="246.91" y="614.2" width="1.7" height="2.3" fill="#fff"/>
<rect x="250.21" y="614.2" width="4" height="2.3" fill="#fff"/>
<rect x="247.21" y="610.5" width="5.6" height="2.3" fill="#fff"/>
<rect x="246.91" y="606.8" width="1.7" height="2.3" fill="#fff"/>
<rect x="250.21" y="606.8" width="4" height="2.3" fill="#fff"/>
<rect x="247.21" y="603.1" width="5.6" height="2.3" fill="#fff"/>
<rect x="246.91" y="599.4" width="1.7" height="2.3" fill="#fff"/>
<rect x="250.21" y="599.4" width="4" height="2.3" fill="#fff"/>
<rect x="247.21" y="595.7" width="5.6" height="2.3" fill="#fff"/>
<rect x="246.91" y="592" width="1.7" height="2.3" fill="#fff"/>
<rect x="250.21" y="592" width="4" height="2.3" fill="#fff"/>
<rect x="247.21" y="588.3" width="5.6" height="2.3" fill="#fff"/>
<rect x="246.91" y="584.6" width="1.7" height="2.3" fill="#fff"/>
<rect x="250.21" y="584.6" width="4" height="2.3" fill="#fff"/>
<rect x="247.21" y="580.9" width="5.6" height="2.3" fill="#fff"/>
<rect x="246.91" y="577.2" width="1.7" height="2.3" fill="#fff"/>
<rect x="250.21" y="577.2" width="4" height="2.3" fill="#fff"/>
<rect x="247.21" y="573.5" width="5.6" height="2.3" fill="#fff"/>
<rect x="246.91" y="569.8" width="1.7" height="2.3" fill="#fff"/>
<rect x="250.21" y="569.8" width="4" height="2.3" fill="#fff"/>
<rect x="247.21" y="566.1" width="5.6" height="2.3" fill="#fff"/>
<rect x="246.91" y="562.4" width="1.7" height="2.3" fill="#fff"/>
<rect x="250.21" y="562.4" width="4" height="2.3" fill="#fff"/>
<rect x="247.21" y="558.7" width="5.6" height="2.3" fill="#fff"/>
<rect x="254.61" y="556.5" width="9.1" height="64" fill="#000"/>
<line x1="271.69" y1="579.8" x2="271.69" y2="589.3" stroke="#000" stroke-width="1.4"/><line x1="268.19" y1="579.9" x2="275.19" y2="579.9" stroke="#000" stroke-width="1.6"/>
<line x1="280.19" y1="570.7" x2="280.19" y2="582.9" stroke="#000" stroke-width="1.4"/><line x1="276.69" y1="570.8" x2="283.69" y2="570.8" stroke="#000" stroke-width="1.6"/>
<rect x="266.99" y="589.3" width="9" height="31.2" fill="#000"/>
<rect x="268.39" y="617.9" width="5.6" height="2.3" fill="#fff"/>
<rect x="268.09" y="614.2" width="1.7" height="2.3" fill="#fff"/>
<rect x="271.39" y="614.2" width="4" height="2.3" fill="#fff"/>
<rect x="268.39" y="610.5" width="5.6" height="2.3" fill="#fff"/>
<rect x="268.09" y="606.8" width="1.7" height="2.3" fill="#fff"/>
<rect x="271.39" y="606.8" width="4" height="2.3" fill="#fff"/>
<rect x="268.39" y="603.1" width="5.6" height="2.3" fill="#fff"/>
<rect x="268.09" y="599.4" width="1.7" height="2.3" fill="#fff"/>
<rect x="271.39" y="599.4" width="4" height="2.3" fill="#fff"/>
<rect x="268.39" y="595.7" width="5.6" height="2.3" fill="#fff"/>
<rect x="268.09" y="592" width="1.7" height="2.3" fill="#fff"/>
<rect x="271.39" y="592" width="4" height="2.3" fill="#fff"/>
<rect x="275.79" y="582.9" width="9.1" height="37.6" fill="#000"/>
<line x1="293.12" y1="596" x2="293.12" y2="601.5" stroke="#000" stroke-width="1.4"/><line x1="289.62" y1="596.1" x2="296.62" y2="596.1" stroke="#000" stroke-width="1.6"/>
<line x1="301.62" y1="587.8" x2="301.62" y2="595.3" stroke="#000" stroke-width="1.4"/><line x1="298.12" y1="587.9" x2="305.12" y2="587.9" stroke="#000" stroke-width="1.6"/>
<rect x="288.42" y="601.5" width="9" height="19" fill="#000"/>
<rect x="289.82" y="617.9" width="5.6" height="2.3" fill="#fff"/>
<rect x="289.52" y="614.2" width="1.7" height="2.3" fill="#fff"/>
<rect x="292.82" y="614.2" width="4" height="2.3" fill="#fff"/>
<rect x="289.82" y="610.5" width="5.6" height="2.3" fill="#fff"/>
<rect x="289.52" y="606.8" width="1.7" height="2.3" fill="#fff"/>
<rect x="292.82" y="606.8" width="4" height="2.3" fill="#fff"/>
<rect x="289.82" y="603.1" width="5.6" height="2.3" fill="#fff"/>
<rect x="297.22" y="595.3" width="9.1" height="25.2" fill="#000"/>

<line x1="322.35" y1="593.8" x2="322.35" y2="599.8" stroke="#000" stroke-width="1.4"/><line x1="318.85" y1="593.9" x2="325.85" y2="593.9" stroke="#000" stroke-width="1.6"/>
<rect x="309.15" y="605.1" width="9" height="15.4" fill="#000"/>
<rect x="310.55" y="617.9" width="5.6" height="2.3" fill="#fff"/>
<rect x="310.25" y="614.2" width="1.7" height="2.3" fill="#fff"/>
<rect x="313.55" y="614.2" width="4" height="2.3" fill="#fff"/>
<rect x="310.55" y="610.5" width="5.6" height="2.3" fill="#fff"/>
<rect x="310.25" y="606.8" width="1.7" height="2.3" fill="#fff"/>
<rect x="313.55" y="606.8" width="4" height="2.3" fill="#fff"/>
<rect x="317.95" y="599.8" width="9.1" height="20.7" fill="#000"/>
<line x1="334.48" y1="542.4" x2="334.48" y2="561.4" stroke="#000" stroke-width="1.4"/><line x1="330.98" y1="542.5" x2="337.98" y2="542.5" stroke="#000" stroke-width="1.6"/>
<line x1="342.98" y1="528.8" x2="342.98" y2="551.6" stroke="#000" stroke-width="1.4"/><line x1="339.48" y1="528.9" x2="346.48" y2="528.9" stroke="#000" stroke-width="1.6"/>
<rect x="329.78" y="561.4" width="9" height="59.1" fill="#000"/>
<rect x="331.18" y="617.9" width="5.6" height="2.3" fill="#fff"/>
<rect x="330.88" y="614.2" width="1.7" height="2.3" fill="#fff"/>
<rect x="334.18" y="614.2" width="4" height="2.3" fill="#fff"/>
<rect x="331.18" y="610.5" width="5.6" height="2.3" fill="#fff"/>
<rect x="330.88" y="606.8" width="1.7" height="2.3" fill="#fff"/>
<rect x="334.18" y="606.8" width="4" height="2.3" fill="#fff"/>
<rect x="331.18" y="603.1" width="5.6" height="2.3" fill="#fff"/>
<rect x="330.88" y="599.4" width="1.7" height="2.3" fill="#fff"/>
<rect x="334.18" y="599.4" width="4" height="2.3" fill="#fff"/>
<rect x="331.18" y="595.7" width="5.6" height="2.3" fill="#fff"/>
<rect x="330.88" y="592" width="1.7" height="2.3" fill="#fff"/>
<rect x="334.18" y="592" width="4" height="2.3" fill="#fff"/>
<rect x="331.18" y="588.3" width="5.6" height="2.3" fill="#fff"/>
<rect x="330.88" y="584.6" width="1.7" height="2.3" fill="#fff"/>
<rect x="334.18" y="584.6" width="4" height="2.3" fill="#fff"/>
<rect x="331.18" y="580.9" width="5.6" height="2.3" fill="#fff"/>
<rect x="330.88" y="577.2" width="1.7" height="2.3" fill="#fff"/>
<rect x="334.18" y="577.2" width="4" height="2.3" fill="#fff"/>
<rect x="331.18" y="573.5" width="5.6" height="2.3" fill="#fff"/>
<rect x="330.88" y="569.8" width="1.7" height="2.3" fill="#fff"/>
<rect x="334.18" y="569.8" width="4" height="2.3" fill="#fff"/>
<rect x="331.18" y="566.1" width="5.6" height="2.3" fill="#fff"/>
<rect x="330.88" y="562.4" width="1.7" height="2.3" fill="#fff"/>
<rect x="334.18" y="562.4" width="4" height="2.3" fill="#fff"/>
<rect x="338.58" y="551.6" width="9.1" height="68.9" fill="#000"/>
<line x1="355.31" y1="565.2" x2="355.31" y2="578.3" stroke="#000" stroke-width="1.4"/><line x1="351.81" y1="565.3" x2="358.81" y2="565.3" stroke="#000" stroke-width="1.6"/>
<line x1="363.81" y1="527.9" x2="363.81" y2="550.6" stroke="#000" stroke-width="1.4"/><line x1="360.31" y1="528" x2="367.31" y2="528" stroke="#000" stroke-width="1.6"/>
<rect x="350.61" y="578.3" width="9" height="42.2" fill="#000"/>
<rect x="352.01" y="617.9" width="5.6" height="2.3" fill="#fff"/>
<rect x="351.71" y="614.2" width="1.7" height="2.3" fill="#fff"/>
<rect x="355.01" y="614.2" width="4" height="2.3" fill="#fff"/>
<rect x="352.01" y="610.5" width="5.6" height="2.3" fill="#fff"/>
<rect x="351.71" y="606.8" width="1.7" height="2.3" fill="#fff"/>
<rect x="355.01" y="606.8" width="4" height="2.3" fill="#fff"/>
<rect x="352.01" y="603.1" width="5.6" height="2.3" fill="#fff"/>
<rect x="351.71" y="599.4" width="1.7" height="2.3" fill="#fff"/>
<rect x="355.01" y="599.4" width="4" height="2.3" fill="#fff"/>
<rect x="352.01" y="595.7" width="5.6" height="2.3" fill="#fff"/>
<rect x="351.71" y="592" width="1.7" height="2.3" fill="#fff"/>
<rect x="355.01" y="592" width="4" height="2.3" fill="#fff"/>
<rect x="352.01" y="588.3" width="5.6" height="2.3" fill="#fff"/>
<rect x="351.71" y="584.6" width="1.7" height="2.3" fill="#fff"/>
<rect x="355.01" y="584.6" width="4" height="2.3" fill="#fff"/>
<rect x="352.01" y="580.9" width="5.6" height="2.3" fill="#fff"/>
<rect x="359.41" y="550.6" width="9.1" height="69.9" fill="#000"/>
<line x1="376.19" y1="512.4" x2="376.19" y2="537.7" stroke="#000" stroke-width="1.4"/><line x1="372.69" y1="512.5" x2="379.69" y2="512.5" stroke="#000" stroke-width="1.6"/>
<line x1="384.69" y1="509.5" x2="384.69" y2="537" stroke="#000" stroke-width="1.4"/><line x1="381.19" y1="509.6" x2="388.19" y2="509.6" stroke="#000" stroke-width="1.6"/>
<rect x="371.49" y="537.7" width="9" height="82.8" fill="#000"/>
<rect x="372.89" y="617.9" width="5.6" height="2.3" fill="#fff"/>
<rect x="372.59" y="614.2" width="1.7" height="2.3" fill="#fff"/>
<rect x="375.89" y="614.2" width="4" height="2.3" fill="#fff"/>
<rect x="372.89" y="610.5" width="5.6" height="2.3" fill="#fff"/>
<rect x="372.59" y="606.8" width="1.7" height="2.3" fill="#fff"/>
<rect x="375.89" y="606.8" width="4" height="2.3" fill="#fff"/>
<rect x="372.89" y="603.1" width="5.6" height="2.3" fill="#fff"/>
<rect x="372.59" y="599.4" width="1.7" height="2.3" fill="#fff"/>
<rect x="375.89" y="599.4" width="4" height="2.3" fill="#fff"/>
<rect x="372.89" y="595.7" width="5.6" height="2.3" fill="#fff"/>
<rect x="372.59" y="592" width="1.7" height="2.3" fill="#fff"/>
<rect x="375.89" y="592" width="4" height="2.3" fill="#fff"/>
<rect x="372.89" y="588.3" width="5.6" height="2.3" fill="#fff"/>
<rect x="372.59" y="584.6" width="1.7" height="2.3" fill="#fff"/>
<rect x="375.89" y="584.6" width="4" height="2.3" fill="#fff"/>
<rect x="372.89" y="580.9" width="5.6" height="2.3" fill="#fff"/>
<rect x="372.59" y="577.2" width="1.7" height="2.3" fill="#fff"/>
<rect x="375.89" y="577.2" width="4" height="2.3" fill="#fff"/>
<rect x="372.89" y="573.5" width="5.6" height="2.3" fill="#fff"/>
<rect x="372.59" y="569.8" width="1.7" height="2.3" fill="#fff"/>
<rect x="375.89" y="569.8" width="4" height="2.3" fill="#fff"/>
<rect x="372.89" y="566.1" width="5.6" height="2.3" fill="#fff"/>
<rect x="372.59" y="562.4" width="1.7" height="2.3" fill="#fff"/>
<rect x="375.89" y="562.4" width="4" height="2.3" fill="#fff"/>
<rect x="372.89" y="558.7" width="5.6" height="2.3" fill="#fff"/>
<rect x="372.59" y="555" width="1.7" height="2.3" fill="#fff"/>
<rect x="375.89" y="555" width="4" height="2.3" fill="#fff"/>
<rect x="372.89" y="551.3" width="5.6" height="2.3" fill="#fff"/>
<rect x="372.59" y="547.6" width="1.7" height="2.3" fill="#fff"/>
<rect x="375.89" y="547.6" width="4" height="2.3" fill="#fff"/>
<rect x="372.89" y="543.9" width="5.6" height="2.3" fill="#fff"/>
<rect x="372.59" y="540.2" width="1.7" height="2.3" fill="#fff"/>
<rect x="375.89" y="540.2" width="4" height="2.3" fill="#fff"/>
<rect x="380.29" y="537" width="9.1" height="83.5" fill="#000"/>
<line x1="397.22" y1="532.4" x2="397.22" y2="573.2" stroke="#000" stroke-width="1.4"/><line x1="393.72" y1="532.5" x2="400.72" y2="532.5" stroke="#000" stroke-width="1.6"/>
<line x1="405.72" y1="556.8" x2="405.72" y2="572.3" stroke="#000" stroke-width="1.4"/><line x1="402.22" y1="556.9" x2="409.22" y2="556.9" stroke="#000" stroke-width="1.6"/>
<rect x="392.52" y="573.2" width="9" height="47.3" fill="#000"/>
<rect x="393.92" y="617.9" width="5.6" height="2.3" fill="#fff"/>
<rect x="393.62" y="614.2" width="1.7" height="2.3" fill="#fff"/>
<rect x="396.92" y="614.2" width="4" height="2.3" fill="#fff"/>
<rect x="393.92" y="610.5" width="5.6" height="2.3" fill="#fff"/>
<rect x="393.62" y="606.8" width="1.7" height="2.3" fill="#fff"/>
<rect x="396.92" y="606.8" width="4" height="2.3" fill="#fff"/>
<rect x="393.92" y="603.1" width="5.6" height="2.3" fill="#fff"/>
<rect x="393.62" y="599.4" width="1.7" height="2.3" fill="#fff"/>
<rect x="396.92" y="599.4" width="4" height="2.3" fill="#fff"/>
<rect x="393.92" y="595.7" width="5.6" height="2.3" fill="#fff"/>
<rect x="393.62" y="592" width="1.7" height="2.3" fill="#fff"/>
<rect x="396.92" y="592" width="4" height="2.3" fill="#fff"/>
<rect x="393.92" y="588.3" width="5.6" height="2.3" fill="#fff"/>
<rect x="393.62" y="584.6" width="1.7" height="2.3" fill="#fff"/>
<rect x="396.92" y="584.6" width="4" height="2.3" fill="#fff"/>
<rect x="393.92" y="580.9" width="5.6" height="2.3" fill="#fff"/>
<rect x="393.62" y="577.2" width="1.7" height="2.3" fill="#fff"/>
<rect x="396.92" y="577.2" width="4" height="2.3" fill="#fff"/>
<rect x="401.32" y="572.3" width="9.1" height="48.2" fill="#000"/>
<line x1="418.29" y1="588.4" x2="418.29" y2="595.6" stroke="#000" stroke-width="1.4"/><line x1="414.79" y1="588.5" x2="421.79" y2="588.5" stroke="#000" stroke-width="1.6"/>
<line x1="426.79" y1="567.8" x2="426.79" y2="580.2" stroke="#000" stroke-width="1.4"/><line x1="423.29" y1="567.9" x2="430.29" y2="567.9" stroke="#000" stroke-width="1.6"/>
<rect x="413.59" y="595.6" width="9" height="24.9" fill="#000"/>
<rect x="414.99" y="617.9" width="5.6" height="2.3" fill="#fff"/>
<rect x="414.69" y="614.2" width="1.7" height="2.3" fill="#fff"/>
<rect x="417.99" y="614.2" width="4" height="2.3" fill="#fff"/>
<rect x="414.99" y="610.5" width="5.6" height="2.3" fill="#fff"/>
<rect x="414.69" y="606.8" width="1.7" height="2.3" fill="#fff"/>
<rect x="417.99" y="606.8" width="4" height="2.3" fill="#fff"/>
<rect x="414.99" y="603.1" width="5.6" height="2.3" fill="#fff"/>
<rect x="414.69" y="599.4" width="1.7" height="2.3" fill="#fff"/>
<rect x="417.99" y="599.4" width="4" height="2.3" fill="#fff"/>
<rect x="422.39" y="580.2" width="9.1" height="40.3" fill="#000"/>
<line x1="439.37" y1="562.5" x2="439.37" y2="576" stroke="#000" stroke-width="1.4"/><line x1="435.87" y1="562.6" x2="442.87" y2="562.6" stroke="#000" stroke-width="1.6"/>
<line x1="447.87" y1="571" x2="447.87" y2="582.9" stroke="#000" stroke-width="1.4"/><line x1="444.37" y1="571.1" x2="451.37" y2="571.1" stroke="#000" stroke-width="1.6"/>
<rect x="434.67" y="576" width="9" height="44.5" fill="#000"/>
<rect x="436.07" y="617.9" width="5.6" height="2.3" fill="#fff"/>
<rect x="435.77" y="614.2" width="1.7" height="2.3" fill="#fff"/>
<rect x="439.07" y="614.2" width="4" height="2.3" fill="#fff"/>
<rect x="436.07" y="610.5" width="5.6" height="2.3" fill="#fff"/>
<rect x="435.77" y="606.8" width="1.7" height="2.3" fill="#fff"/>
<rect x="439.07" y="606.8" width="4" height="2.3" fill="#fff"/>
<rect x="436.07" y="603.1" width="5.6" height="2.3" fill="#fff"/>
<rect x="435.77" y="599.4" width="1.7" height="2.3" fill="#fff"/>
<rect x="439.07" y="599.4" width="4" height="2.3" fill="#fff"/>
<rect x="436.07" y="595.7" width="5.6" height="2.3" fill="#fff"/>
<rect x="435.77" y="592" width="1.7" height="2.3" fill="#fff"/>
<rect x="439.07" y="592" width="4" height="2.3" fill="#fff"/>
<rect x="436.07" y="588.3" width="5.6" height="2.3" fill="#fff"/>
<rect x="435.77" y="584.6" width="1.7" height="2.3" fill="#fff"/>
<rect x="439.07" y="584.6" width="4" height="2.3" fill="#fff"/>
<rect x="436.07" y="580.9" width="5.6" height="2.3" fill="#fff"/>
<rect x="435.77" y="577.2" width="1.7" height="2.3" fill="#fff"/>
<rect x="439.07" y="577.2" width="4" height="2.3" fill="#fff"/>
<rect x="443.47" y="582.9" width="9.1" height="37.6" fill="#000"/>
<line x1="460.25" y1="588" x2="460.25" y2="595.3" stroke="#000" stroke-width="1.4"/><line x1="456.75" y1="588.1" x2="463.75" y2="588.1" stroke="#000" stroke-width="1.6"/>
<line x1="468.75" y1="565.2" x2="468.75" y2="578.9" stroke="#000" stroke-width="1.4"/><line x1="465.25" y1="565.3" x2="472.25" y2="565.3" stroke="#000" stroke-width="1.6"/>
<rect x="455.55" y="595.3" width="9" height="25.2" fill="#000"/>
<rect x="456.95" y="617.9" width="5.6" height="2.3" fill="#fff"/>
<rect x="456.65" y="614.2" width="1.7" height="2.3" fill="#fff"/>
<rect x="459.95" y="614.2" width="4" height="2.3" fill="#fff"/>
<rect x="456.95" y="610.5" width="5.6" height="2.3" fill="#fff"/>
<rect x="456.65" y="606.8" width="1.7" height="2.3" fill="#fff"/>
<rect x="459.95" y="606.8" width="4" height="2.3" fill="#fff"/>
<rect x="456.95" y="603.1" width="5.6" height="2.3" fill="#fff"/>
<rect x="456.65" y="599.4" width="1.7" height="2.3" fill="#fff"/>
<rect x="459.95" y="599.4" width="4" height="2.3" fill="#fff"/>
<rect x="464.35" y="578.9" width="9.1" height="41.6" fill="#000"/>
<line x1="481.28" y1="599.8" x2="481.28" y2="604.8" stroke="#000" stroke-width="1.4"/><line x1="477.78" y1="599.9" x2="484.78" y2="599.9" stroke="#000" stroke-width="1.6"/>
<line x1="489.78" y1="579.6" x2="489.78" y2="589.6" stroke="#000" stroke-width="1.4"/><line x1="486.28" y1="579.7" x2="493.28" y2="579.7" stroke="#000" stroke-width="1.6"/>
<rect x="476.58" y="604.8" width="9" height="15.7" fill="#000"/>
<rect x="477.98" y="617.9" width="5.6" height="2.3" fill="#fff"/>
<rect x="477.68" y="614.2" width="1.7" height="2.3" fill="#fff"/>
<rect x="480.98" y="614.2" width="4" height="2.3" fill="#fff"/>
<rect x="477.98" y="610.5" width="5.6" height="2.3" fill="#fff"/>
<rect x="477.68" y="606.8" width="1.7" height="2.3" fill="#fff"/>
<rect x="480.98" y="606.8" width="4" height="2.3" fill="#fff"/>
<rect x="485.38" y="589.6" width="9.1" height="30.9" fill="#000"/>
<line x1="502.31" y1="596.6" x2="502.31" y2="602.4" stroke="#000" stroke-width="1.4"/><line x1="498.81" y1="596.7" x2="505.81" y2="596.7" stroke="#000" stroke-width="1.6"/>
<line x1="510.81" y1="559.6" x2="510.81" y2="576.9" stroke="#000" stroke-width="1.4"/><line x1="507.31" y1="559.7" x2="514.31" y2="559.7" stroke="#000" stroke-width="1.6"/>
<rect x="497.61" y="602.4" width="9" height="18.1" fill="#000"/>
<rect x="499.01" y="617.9" width="5.6" height="2.3" fill="#fff"/>
<rect x="498.71" y="614.2" width="1.7" height="2.3" fill="#fff"/>
<rect x="502.01" y="614.2" width="4" height="2.3" fill="#fff"/>
<rect x="499.01" y="610.5" width="5.6" height="2.3" fill="#fff"/>
<rect x="498.71" y="606.8" width="1.7" height="2.3" fill="#fff"/>
<rect x="502.01" y="606.8" width="4" height="2.3" fill="#fff"/>
<rect x="506.41" y="576.9" width="9.1" height="43.6" fill="#000"/>
<polygon points="188.1,455.5 189.01,456.75 190.48,457.23 189.57,458.48 189.57,460.02 188.1,459.55 186.63,460.02 186.63,458.48 185.72,457.23 187.19,456.75" fill="#000"/>
<line x1="54.8" y1="361.65" x2="54.8" y2="620.5" stroke="#000" stroke-width="1.2"/>
<line x1="49.6" y1="361.65" x2="517.8" y2="362.05" stroke="#000" stroke-width="1.5"/>
<line x1="517.2" y1="361.45" x2="517.2" y2="622.85" stroke="#000" stroke-width="1.3"/>
<line x1="49.6" y1="620.5" x2="517.2" y2="620.5" stroke="#000" stroke-width="1.2"/>
<line x1="54.8" y1="622.85" x2="518.2" y2="622.85" stroke="#000" stroke-width="1.1"/>
<line x1="49.6" y1="620.5" x2="54.8" y2="620.5" stroke="#000" stroke-width="1.2"/>
<text x="46.8" y="623.6" font-size="7.6" font-weight="bold" text-anchor="end">0</text>
<line x1="49.6" y1="555.79" x2="54.8" y2="555.79" stroke="#000" stroke-width="1.2"/>
<text x="46.8" y="558.89" font-size="7.6" font-weight="bold" text-anchor="end">5</text>
<line x1="49.6" y1="491.07" x2="54.8" y2="491.07" stroke="#000" stroke-width="1.2"/>
<text x="46.8" y="494.18" font-size="7.6" font-weight="bold" text-anchor="end">10</text>
<line x1="49.6" y1="426.36" x2="54.8" y2="426.36" stroke="#000" stroke-width="1.2"/>
<text x="46.8" y="429.46" font-size="7.6" font-weight="bold" text-anchor="end">15</text>
<line x1="49.6" y1="361.65" x2="54.8" y2="361.65" stroke="#000" stroke-width="1.2"/>
<text x="46.8" y="364.75" font-size="7.6" font-weight="bold" text-anchor="end">20</text>
<line x1="66" y1="622.85" x2="66" y2="627.65" stroke="#000" stroke-width="1.2"/>
<text transform="translate(69.3,629.3) rotate(-90) scale(1.035,1)" font-size="9.1" font-weight="bold" text-anchor="end" style="stroke-width:0.35px">VB1</text>
<line x1="86.83" y1="622.85" x2="86.83" y2="627.65" stroke="#000" stroke-width="1.2"/>
<text transform="translate(90.13,629.3) rotate(-90) scale(1.035,1)" font-size="9.1" font-weight="bold" text-anchor="end" style="stroke-width:0.35px">BV2</text>
<line x1="108.01" y1="622.85" x2="108.01" y2="627.65" stroke="#000" stroke-width="1.2"/>
<text transform="translate(111.31,629.3) rotate(-90) scale(1.035,1)" font-size="9.1" font-weight="bold" text-anchor="end" style="stroke-width:0.35px">BV3</text>
<line x1="128.89" y1="622.85" x2="128.89" y2="627.65" stroke="#000" stroke-width="1.2"/>
<text transform="translate(132.19,629.3) rotate(-90) scale(1.035,1)" font-size="9.1" font-weight="bold" text-anchor="end" style="stroke-width:0.35px">BV4</text>
<line x1="150.32" y1="622.85" x2="150.32" y2="627.65" stroke="#000" stroke-width="1.2"/>
<text transform="translate(153.62,629.3) rotate(-90) scale(1.035,1)" font-size="9.1" font-weight="bold" text-anchor="end" style="stroke-width:0.35px">BV5S1</text>
<line x1="171.45" y1="622.85" x2="171.45" y2="627.65" stroke="#000" stroke-width="1.2"/>
<text transform="translate(174.75,629.3) rotate(-90) scale(1.035,1)" font-size="9.1" font-weight="bold" text-anchor="end" style="stroke-width:0.35px">BV5S2-3</text>
<line x1="192.03" y1="622.85" x2="192.03" y2="627.65" stroke="#000" stroke-width="1.2"/>
<text transform="translate(195.33,629.3) rotate(-90) scale(1.035,1)" font-size="9.1" font-weight="bold" text-anchor="end" style="stroke-width:0.35px">BV6S1-3</text>
<line x1="213.06" y1="622.85" x2="213.06" y2="627.65" stroke="#000" stroke-width="1.2"/>
<text transform="translate(216.36,629.3) rotate(-90) scale(1.035,1)" font-size="9.1" font-weight="bold" text-anchor="end" style="stroke-width:0.35px">BV7</text>
<line x1="234.03" y1="622.85" x2="234.03" y2="627.65" stroke="#000" stroke-width="1.2"/>
<text transform="translate(237.33,629.3) rotate(-90) scale(1.035,1)" font-size="9.1" font-weight="bold" text-anchor="end" style="stroke-width:0.35px">BV8</text>
<line x1="254.61" y1="622.85" x2="254.61" y2="627.65" stroke="#000" stroke-width="1.2"/>
<text transform="translate(257.91,629.3) rotate(-90) scale(1.035,1)" font-size="9.1" font-weight="bold" text-anchor="end" style="stroke-width:0.35px">BV9</text>
<line x1="275.79" y1="622.85" x2="275.79" y2="627.65" stroke="#000" stroke-width="1.2"/>
<text transform="translate(279.09,629.3) rotate(-90) scale(1.035,1)" font-size="9.1" font-weight="bold" text-anchor="end" style="stroke-width:0.35px">BV10</text>
<line x1="297.22" y1="622.85" x2="297.22" y2="627.65" stroke="#000" stroke-width="1.2"/>
<text transform="translate(300.52,629.3) rotate(-90) scale(1.035,1)" font-size="9.1" font-weight="bold" text-anchor="end" style="stroke-width:0.35px">BV11</text>
<line x1="317.95" y1="622.85" x2="317.95" y2="627.65" stroke="#000" stroke-width="1.2"/>
<text transform="translate(321.25,629.3) rotate(-90) scale(1.035,1)" font-size="9.1" font-weight="bold" text-anchor="end" style="stroke-width:0.35px">BV12</text>
<line x1="338.58" y1="622.85" x2="338.58" y2="627.65" stroke="#000" stroke-width="1.2"/>
<text transform="translate(341.88,629.3) rotate(-90) scale(1.035,1)" font-size="9.1" font-weight="bold" text-anchor="end" style="stroke-width:0.35px">BV13S1</text>
<line x1="359.41" y1="622.85" x2="359.41" y2="627.65" stroke="#000" stroke-width="1.2"/>
<text transform="translate(362.71,629.3) rotate(-90) scale(1.035,1)" font-size="9.1" font-weight="bold" text-anchor="end" style="stroke-width:0.35px">BV13S2</text>
<line x1="380.29" y1="622.85" x2="380.29" y2="627.65" stroke="#000" stroke-width="1.2"/>
<text transform="translate(383.59,629.3) rotate(-90) scale(1.035,1)" font-size="9.1" font-weight="bold" text-anchor="end" style="stroke-width:0.35px">BV14</text>
<line x1="401.32" y1="622.85" x2="401.32" y2="627.65" stroke="#000" stroke-width="1.2"/>
<text transform="translate(404.62,629.3) rotate(-90) scale(1.035,1)" font-size="9.1" font-weight="bold" text-anchor="end" style="stroke-width:0.35px">BV15</text>
<line x1="422.39" y1="622.85" x2="422.39" y2="627.65" stroke="#000" stroke-width="1.2"/>
<text transform="translate(425.69,629.3) rotate(-90) scale(1.035,1)" font-size="9.1" font-weight="bold" text-anchor="end" style="stroke-width:0.35px">BV16</text>
<line x1="443.47" y1="622.85" x2="443.47" y2="627.65" stroke="#000" stroke-width="1.2"/>
<text transform="translate(446.77,629.3) rotate(-90) scale(1.035,1)" font-size="9.1" font-weight="bold" text-anchor="end" style="stroke-width:0.35px">BV17</text>
<line x1="464.35" y1="622.85" x2="464.35" y2="627.65" stroke="#000" stroke-width="1.2"/>
<text transform="translate(467.65,629.3) rotate(-90) scale(1.035,1)" font-size="9.1" font-weight="bold" text-anchor="end" style="stroke-width:0.35px">BV18</text>
<line x1="485.38" y1="622.85" x2="485.38" y2="627.65" stroke="#000" stroke-width="1.2"/>
<text transform="translate(488.68,629.3) rotate(-90) scale(1.035,1)" font-size="9.1" font-weight="bold" text-anchor="end" style="stroke-width:0.35px">BV19</text>
<line x1="506.41" y1="622.85" x2="506.41" y2="627.65" stroke="#000" stroke-width="1.2"/>
<text transform="translate(509.71,629.3) rotate(-90) scale(1.035,1)" font-size="9.1" font-weight="bold" text-anchor="end" style="stroke-width:0.35px">BV20</text>
<text x="2.8" y="386.9" font-size="37.5" font-weight="bold">B</text>
<rect x="432.2" y="369.8" width="11.6" height="10.9" fill="#000"/>
<rect x="434" y="371.3" width="3.6" height="2.3" fill="#fff"/>
<rect x="439.3" y="371.3" width="2.5" height="2.3" fill="#fff"/>
<rect x="435.9" y="374.9" width="5.6" height="2" fill="#fff"/>
<rect x="434.2" y="377.9" width="3.4" height="1.8" fill="#aaa"/>
<rect x="439.2" y="377.9" width="2.6" height="1.8" fill="#999"/>
<rect x="432.7" y="393.5" width="10.6" height="10.3" fill="#000"/>
<text x="454.3" y="380.2" font-size="10.7" textLength="40" lengthAdjust="spacingAndGlyphs">CLL CD8</text>
<text x="454.3" y="403.4" font-size="10.7" textLength="53.5" lengthAdjust="spacingAndGlyphs">Control CD8</text>
<text x="262.7" y="681.5" font-size="11.6" font-weight="bold">BV Family</text>
<text transform="translate(30.6,568.3) rotate(-90)" font-size="12.4" font-weight="bold" textLength="100.3" lengthAdjust="spacingAndGlyphs">Relative  percent</text>
</svg>
</body></html>
